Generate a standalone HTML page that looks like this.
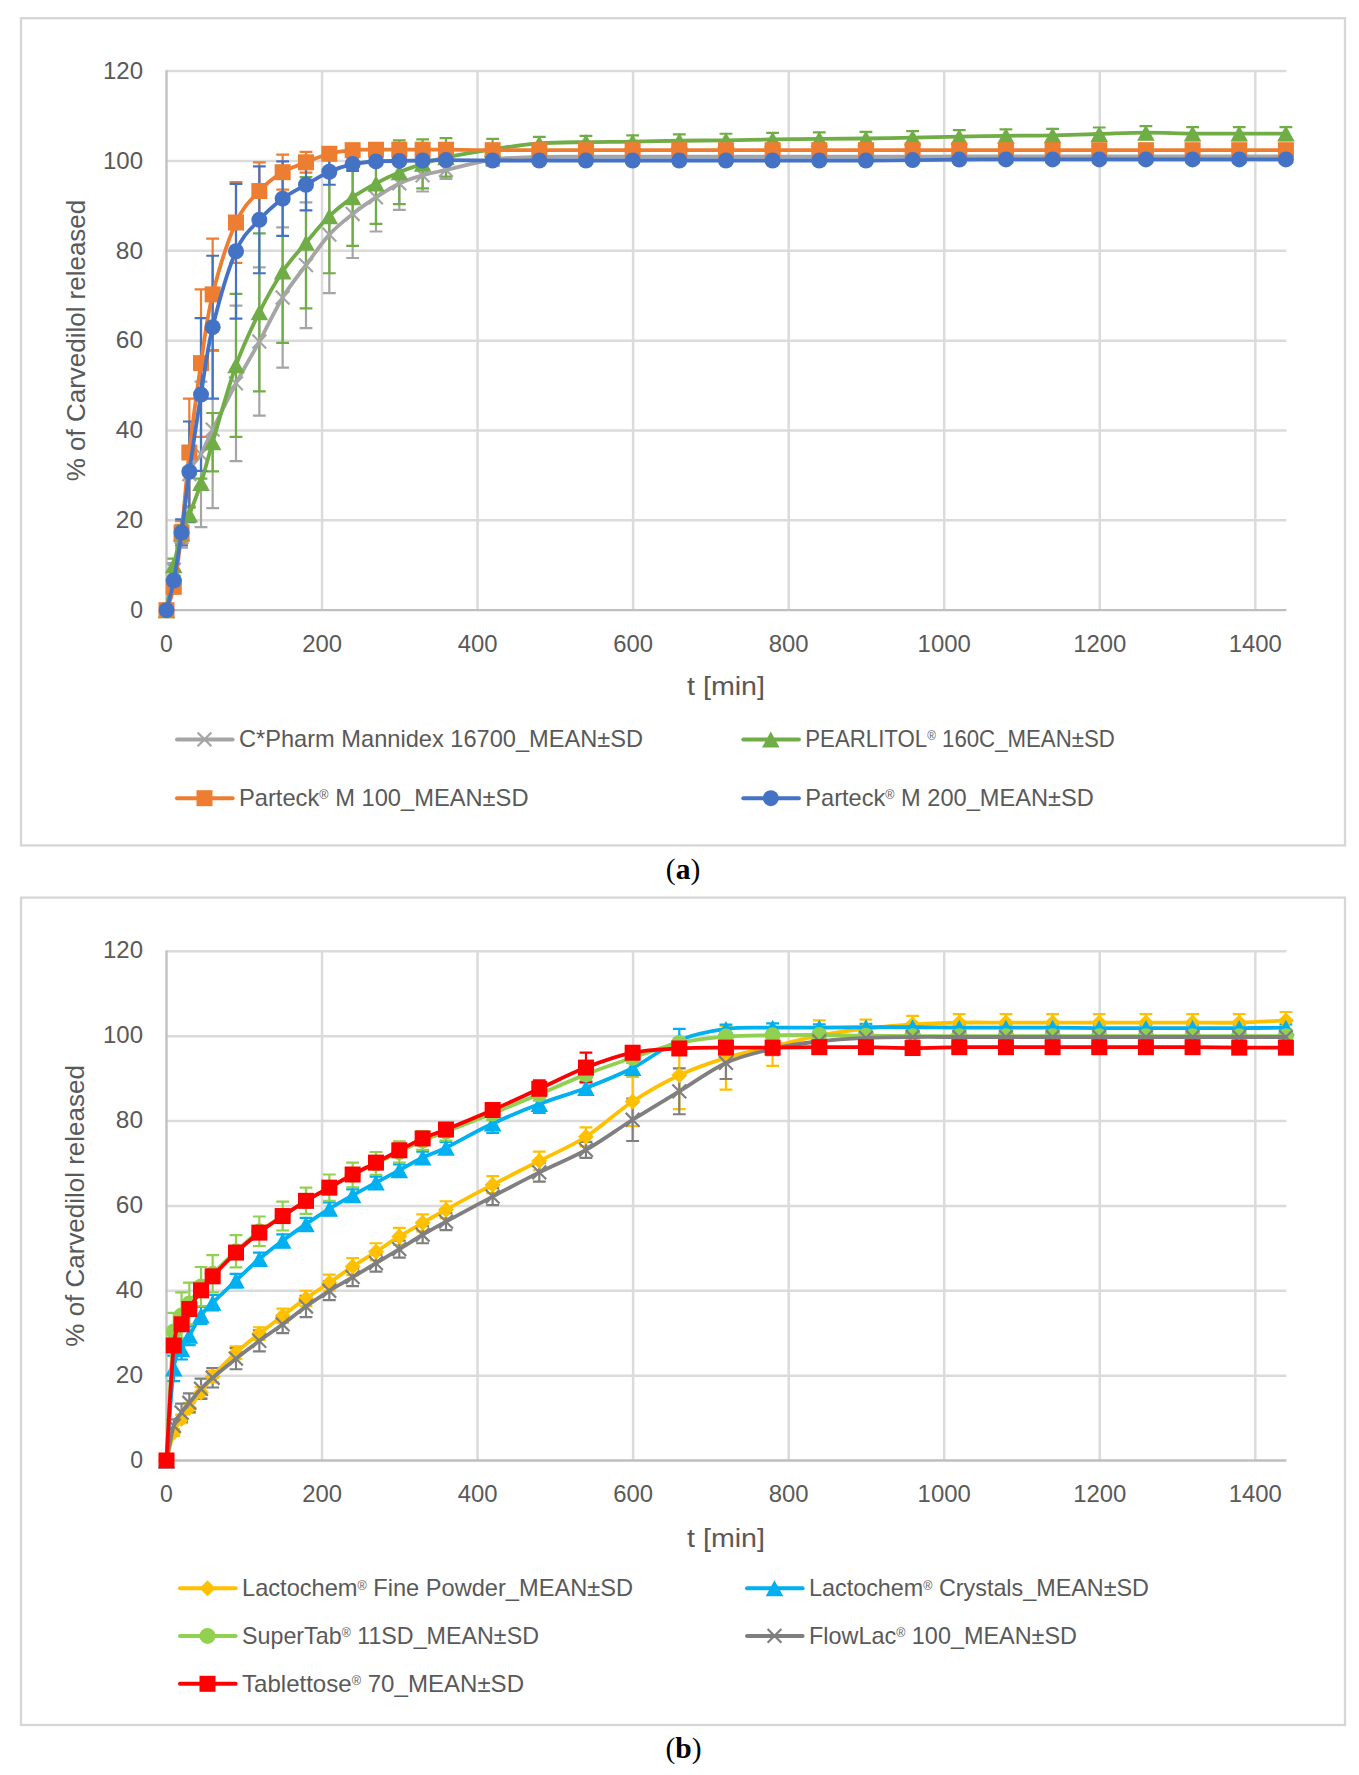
<!DOCTYPE html>
<html lang="en">
<head>
<meta charset="utf-8">
<title>Carvedilol release profiles</title>
<style>
html,body{margin:0;padding:0;background:#fff;}
body{width:1359px;height:1775px;overflow:hidden;}
svg{display:block;}
text{white-space:pre;}
</style>
</head>
<body>
<svg width="1359" height="1775" viewBox="0 0 1359 1775">
<rect x="21" y="18.2" width="1324" height="827.2" fill="#fff" stroke="#d6d6d6" stroke-width="2.3"/>
<path d="M166.5 520.35H1286.4M166.5 430.5H1286.4M166.5 340.65H1286.4M166.5 250.8H1286.4M166.5 160.95H1286.4M166.5 71.1H1286.4M322.04 71.1V610.2M477.58 71.1V610.2M633.12 71.1V610.2M788.67 71.1V610.2M944.21 71.1V610.2M1099.75 71.1V610.2M1255.29 71.1V610.2" stroke="#dbdbdb" stroke-width="2.5" fill="none"/>
<path d="M166.5 70.3V610.2H1286.4" stroke="#bfbfbf" stroke-width="2.3" fill="none"/>
<text x="143" y="617.9" font-family='"Liberation Sans", sans-serif' font-size="24" fill="#595959" text-anchor="end" textLength="12.8" lengthAdjust="spacingAndGlyphs">0</text>
<text x="143" y="528.05" font-family='"Liberation Sans", sans-serif' font-size="24" fill="#595959" text-anchor="end" textLength="27.2" lengthAdjust="spacingAndGlyphs">20</text>
<text x="143" y="438.2" font-family='"Liberation Sans", sans-serif' font-size="24" fill="#595959" text-anchor="end" textLength="27.2" lengthAdjust="spacingAndGlyphs">40</text>
<text x="143" y="348.35" font-family='"Liberation Sans", sans-serif' font-size="24" fill="#595959" text-anchor="end" textLength="27.2" lengthAdjust="spacingAndGlyphs">60</text>
<text x="143" y="258.5" font-family='"Liberation Sans", sans-serif' font-size="24" fill="#595959" text-anchor="end" textLength="27.2" lengthAdjust="spacingAndGlyphs">80</text>
<text x="143" y="168.65" font-family='"Liberation Sans", sans-serif' font-size="24" fill="#595959" text-anchor="end" textLength="40" lengthAdjust="spacingAndGlyphs">100</text>
<text x="143" y="78.8" font-family='"Liberation Sans", sans-serif' font-size="24" fill="#595959" text-anchor="end" textLength="40" lengthAdjust="spacingAndGlyphs">120</text>
<text x="166.5" y="652.3" font-family='"Liberation Sans", sans-serif' font-size="24" fill="#595959" text-anchor="middle" textLength="12.8" lengthAdjust="spacingAndGlyphs">0</text>
<text x="322.04" y="652.3" font-family='"Liberation Sans", sans-serif' font-size="24" fill="#595959" text-anchor="middle" textLength="39.8" lengthAdjust="spacingAndGlyphs">200</text>
<text x="477.58" y="652.3" font-family='"Liberation Sans", sans-serif' font-size="24" fill="#595959" text-anchor="middle" textLength="39.8" lengthAdjust="spacingAndGlyphs">400</text>
<text x="633.12" y="652.3" font-family='"Liberation Sans", sans-serif' font-size="24" fill="#595959" text-anchor="middle" textLength="39.8" lengthAdjust="spacingAndGlyphs">600</text>
<text x="788.67" y="652.3" font-family='"Liberation Sans", sans-serif' font-size="24" fill="#595959" text-anchor="middle" textLength="39.8" lengthAdjust="spacingAndGlyphs">800</text>
<text x="944.21" y="652.3" font-family='"Liberation Sans", sans-serif' font-size="24" fill="#595959" text-anchor="middle" textLength="53.2" lengthAdjust="spacingAndGlyphs">1000</text>
<text x="1099.75" y="652.3" font-family='"Liberation Sans", sans-serif' font-size="24" fill="#595959" text-anchor="middle" textLength="53.2" lengthAdjust="spacingAndGlyphs">1200</text>
<text x="1255.29" y="652.3" font-family='"Liberation Sans", sans-serif' font-size="24" fill="#595959" text-anchor="middle" textLength="53.2" lengthAdjust="spacingAndGlyphs">1400</text>
<text x="726" y="695" font-family='"Liberation Sans", sans-serif' font-size="25.6" fill="#595959" text-anchor="middle" textLength="78" lengthAdjust="spacingAndGlyphs">t [min]</text>
<text x="84.5" y="340.5" font-family='"Liberation Sans", sans-serif' font-size="25.6" fill="#595959" text-anchor="middle" textLength="281.5" lengthAdjust="spacingAndGlyphs" transform="rotate(-90 84.5 340.5)">% of Carvedilol released</text>
<path d="M173.78 563.03V576.51M167.38 563.03H180.18M167.38 576.51H180.18M181.55 526.19V547.75M175.15 526.19H187.95M175.15 547.75H187.95M201 381.53V527.09M194.6 381.53H207.4M194.6 527.09H207.4M212.66 350.98V508.22M206.26 350.98H219.06M206.26 508.22H219.06M235.99 305.61V461.05M229.59 305.61H242.39M229.59 461.05H242.39M259.33 267.42V415.67M252.93 267.42H265.73M252.93 415.67H265.73M282.66 227.44V367.61M276.26 227.44H289.06M276.26 367.61H289.06M305.99 202.28V328.07M299.59 202.28H312.39M299.59 328.07H312.39M329.32 176.22V293.03M322.92 176.22H335.72M322.92 293.03H335.72M352.65 169.94V257.99M346.25 169.94H359.05M346.25 257.99H359.05M375.98 163.2V231.48M369.58 163.2H382.38M369.58 231.48H382.38M399.31 156.91V209.92M392.91 156.91H405.71M392.91 209.92H405.71M422.64 159.15V191.5M416.24 159.15H429.04M416.24 191.5H429.04M445.98 160.95V178.92M439.58 160.95H452.38M439.58 178.92H452.38M492.64 156.01V163.2M486.24 156.01H499.04M486.24 163.2H499.04M539.3 154.66V159.15M532.9 154.66H545.7M532.9 159.15H545.7M585.96 154.44V158.93M579.56 154.44H592.36M579.56 158.93H592.36M632.62 154.44V158.93M626.23 154.44H639.02M626.23 158.93H639.02M679.29 154.44V158.93M672.89 154.44H685.69M672.89 158.93H685.69M725.95 154.44V158.93M719.55 154.44H732.35M719.55 158.93H732.35M772.61 154.44V158.93M766.21 154.44H779.01M766.21 158.93H779.01M819.28 154.44V158.93M812.88 154.44H825.68M812.88 158.93H825.68M865.94 154.44V158.93M859.54 154.44H872.34M859.54 158.93H872.34M912.6 154.44V158.93M906.2 154.44H919M906.2 158.93H919M959.26 154.21V158.7M952.86 154.21H965.66M952.86 158.7H965.66M1005.93 154.21V158.7M999.53 154.21H1012.33M999.53 158.7H1012.33M1052.59 154.21V158.7M1046.19 154.21H1058.99M1046.19 158.7H1058.99M1099.25 154.21V158.7M1092.85 154.21H1105.65M1092.85 158.7H1105.65M1145.91 154.21V158.7M1139.51 154.21H1152.31M1139.51 158.7H1152.31M1192.58 154.21V158.7M1186.17 154.21H1198.98M1186.17 158.7H1198.98M1239.24 154.21V158.7M1232.84 154.21H1245.64M1232.84 158.7H1245.64M1285.9 154.21V158.7M1279.5 154.21H1292.3M1279.5 158.7H1292.3" stroke="#a5a5a5" stroke-width="2.2" fill="none"/>
<path d="M173.78 558.54V572.01M167.38 558.54H180.18M167.38 572.01H180.18M181.55 524.84V542.81M175.15 524.84H187.95M175.15 542.81H187.95M189.33 507.77V521.25M182.93 507.77H195.73M182.93 521.25H195.73M201 478.57V487.55M194.6 478.57H207.4M194.6 487.55H207.4M212.66 412.98V471.38M206.26 412.98H219.06M206.26 471.38H219.06M235.99 293.93V436.79M229.59 293.93H242.39M229.59 436.79H242.39M259.33 233.28V391.42M252.93 233.28H265.73M252.93 391.42H265.73M282.66 200.03V342.9M276.26 200.03H289.06M276.26 342.9H289.06M305.99 177.12V308.3M299.59 177.12H312.39M299.59 308.3H312.39M329.32 159.15V273.26M322.92 159.15H335.72M322.92 273.26H335.72M352.65 148.82V245.86M346.25 148.82H359.05M346.25 245.86H359.05M375.98 142.98V223.84M369.58 142.98H382.38M369.58 223.84H382.38M399.31 140.28V204.08M392.91 140.28H405.71M392.91 204.08H405.71M422.64 139.39V188.35M416.24 139.39H429.04M416.24 188.35H429.04M445.98 138.04V176.67M439.58 138.04H452.38M439.58 176.67H452.38M492.64 138.94V159.6M486.24 138.94H499.04M486.24 159.6H499.04M539.3 136.92V149.94M532.9 136.92H545.7M532.9 149.94H545.7M585.96 135.79V148.37M579.56 135.79H592.36M579.56 148.37H592.36M632.62 135.34V147.92M626.23 135.34H639.02M626.23 147.92H639.02M679.29 134.44V147.02M672.89 134.44H685.69M672.89 147.02H685.69M725.95 133.77V146.8M719.55 133.77H732.35M719.55 146.8H732.35M772.61 132.87V145.9M766.21 132.87H779.01M766.21 145.9H779.01M819.28 132.42V145.45M812.88 132.42H825.68M812.88 145.45H825.68M865.94 131.97V145M859.54 131.97H872.34M859.54 145H872.34M912.6 131.07V144.1M906.2 131.07H919M906.2 144.1H919M959.26 130.18V143.2M952.86 130.18H965.66M952.86 143.2H965.66M1005.93 129.28V142.31M999.53 129.28H1012.33M999.53 142.31H1012.33M1052.59 128.83V141.86M1046.19 128.83H1058.99M1046.19 141.86H1058.99M1099.25 127.48V140.51M1092.85 127.48H1105.65M1092.85 140.51H1105.65M1145.91 126.13V139.16M1139.51 126.13H1152.31M1139.51 139.16H1152.31M1192.58 127.03V140.06M1186.17 127.03H1198.98M1186.17 140.06H1198.98M1239.24 127.03V140.06M1232.84 127.03H1245.64M1232.84 140.06H1245.64M1285.9 127.03V140.06M1279.5 127.03H1292.3M1279.5 140.06H1292.3" stroke="#70ad47" stroke-width="2.2" fill="none"/>
<path d="M173.78 582.35V591.33M167.38 582.35H180.18M167.38 591.33H180.18M181.55 521.25V543.71M175.15 521.25H187.95M175.15 543.71H187.95M189.33 398.6V506.42M182.93 398.6H195.73M182.93 506.42H195.73M201 289.44V436.79M194.6 289.44H207.4M194.6 436.79H207.4M212.66 238.67V350.08M206.26 238.67H219.06M206.26 350.08H219.06M235.99 182.06V262.93M229.59 182.06H242.39M229.59 262.93H242.39M259.33 162.3V219.8M252.93 162.3H265.73M252.93 219.8H265.73M282.66 154.66V189.7M276.26 154.66H289.06M276.26 189.7H289.06M305.99 151.96V172.63M299.59 151.96H312.39M299.59 172.63H312.39M329.32 148.37V159.15M322.92 148.37H335.72M322.92 159.15H335.72M352.65 146.57V153.76M346.25 146.57H359.05M346.25 153.76H359.05M375.98 147.47V151.96M369.58 147.47H382.38M369.58 151.96H382.38M399.31 147.92V151.52M392.91 147.92H405.71M392.91 151.52H405.71M422.64 147.92V151.52M416.24 147.92H429.04M416.24 151.52H429.04M445.98 147.92V151.52M439.58 147.92H452.38M439.58 151.52H452.38M492.64 148.82V151.52M486.24 148.82H499.04M486.24 151.52H499.04M539.3 148.82V151.52M532.9 148.82H545.7M532.9 151.52H545.7M585.96 148.82V151.52M579.56 148.82H592.36M579.56 151.52H592.36M632.62 148.82V151.52M626.23 148.82H639.02M626.23 151.52H639.02M679.29 148.82V151.52M672.89 148.82H685.69M672.89 151.52H685.69M725.95 148.82V151.52M719.55 148.82H732.35M719.55 151.52H732.35M772.61 148.82V151.52M766.21 148.82H779.01M766.21 151.52H779.01M819.28 148.82V151.52M812.88 148.82H825.68M812.88 151.52H825.68M865.94 148.82V151.52M859.54 148.82H872.34M859.54 151.52H872.34M912.6 148.82V151.52M906.2 148.82H919M906.2 151.52H919M959.26 148.82V151.52M952.86 148.82H965.66M952.86 151.52H965.66M1005.93 148.82V151.52M999.53 148.82H1012.33M999.53 151.52H1012.33M1052.59 148.82V151.52M1046.19 148.82H1058.99M1046.19 151.52H1058.99M1099.25 148.82V151.52M1092.85 148.82H1105.65M1092.85 151.52H1105.65M1145.91 148.82V151.52M1139.51 148.82H1152.31M1139.51 151.52H1152.31M1192.58 148.82V151.52M1186.17 148.82H1198.98M1186.17 151.52H1198.98M1239.24 148.82V151.52M1232.84 148.82H1245.64M1232.84 151.52H1245.64M1285.9 148.82V151.52M1279.5 148.82H1292.3M1279.5 151.52H1292.3" stroke="#ed7d31" stroke-width="2.2" fill="none"/>
<path d="M173.78 576.06V585.04M167.38 576.06H180.18M167.38 585.04H180.18M181.55 519.45V545.51M175.15 519.45H187.95M175.15 545.51H187.95M189.33 421.51V522.15M182.93 421.51H195.73M182.93 522.15H195.73M201 318.19V470.93M194.6 318.19H207.4M194.6 470.93H207.4M212.66 255.74V398.6M206.26 255.74H219.06M206.26 398.6H219.06M235.99 183.86V318.64M229.59 183.86H242.39M229.59 318.64H242.39M259.33 166.34V273.26M252.93 166.34H265.73M252.93 273.26H265.73M282.66 161.4V235.97M276.26 161.4H289.06M276.26 235.97H289.06M305.99 159.15V210.37M299.59 159.15H312.39M299.59 210.37H312.39M329.32 158.7V184.76M322.92 158.7H335.72M322.92 184.76H335.72M352.65 157.36V170.83M346.25 157.36H359.05M346.25 170.83H359.05M375.98 157.81V164.99M369.58 157.81H382.38M369.58 164.99H382.38M399.31 158.7V163.2M392.91 158.7H405.71M392.91 163.2H405.71M422.64 158.7V162.3M416.24 158.7H429.04M416.24 162.3H429.04M445.98 158.7V161.4M439.58 158.7H452.38M439.58 161.4H452.38M492.64 159.15V161.85M486.24 159.15H499.04M486.24 161.85H499.04M539.3 159.15V161.85M532.9 159.15H545.7M532.9 161.85H545.7M585.96 159.15V161.85M579.56 159.15H592.36M579.56 161.85H592.36M632.62 159.15V161.85M626.23 159.15H639.02M626.23 161.85H639.02M679.29 159.15V161.85M672.89 159.15H685.69M672.89 161.85H685.69M725.95 159.15V161.85M719.55 159.15H732.35M719.55 161.85H732.35M772.61 159.15V161.85M766.21 159.15H779.01M766.21 161.85H779.01M819.28 159.15V161.85M812.88 159.15H825.68M812.88 161.85H825.68M865.94 159.15V161.85M859.54 159.15H872.34M859.54 161.85H872.34M912.6 158.7V161.4M906.2 158.7H919M906.2 161.4H919M959.26 158.25V160.95M952.86 158.25H965.66M952.86 160.95H965.66M1005.93 158.03V160.73M999.53 158.03H1012.33M999.53 160.73H1012.33M1052.59 158.03V160.73M1046.19 158.03H1058.99M1046.19 160.73H1058.99M1099.25 158.03V160.73M1092.85 158.03H1105.65M1092.85 160.73H1105.65M1145.91 158.03V160.73M1139.51 158.03H1152.31M1139.51 160.73H1152.31M1192.58 158.03V160.73M1186.17 158.03H1198.98M1186.17 160.73H1198.98M1239.24 158.03V160.73M1232.84 158.03H1245.64M1232.84 160.73H1245.64M1285.9 158.03V160.73M1279.5 158.03H1292.3M1279.5 160.73H1292.3" stroke="#4472c4" stroke-width="2.2" fill="none"/>
<path d="M166.5 610.2C167.71 603.46 171.27 581.97 173.78 569.77C176.29 557.56 178.96 552.92 181.55 536.97C184.15 521.02 186.09 487.85 189.33 474.08C192.57 460.3 197.11 461.72 201 454.31C204.89 446.9 206.83 441.43 212.66 429.6C218.5 417.77 228.22 398 235.99 383.33C243.77 368.65 251.55 355.85 259.33 341.55C267.1 327.25 274.88 310.25 282.66 297.52C290.43 284.79 298.21 275.66 305.99 265.18C313.76 254.69 321.54 243.16 329.32 234.63C337.1 226.09 344.87 220.18 352.65 213.96C360.43 207.75 368.2 202.43 375.98 197.34C383.76 192.25 391.54 187.08 399.31 183.41C407.09 179.74 414.87 177.57 422.64 175.33C430.42 173.08 434.31 172.56 445.98 169.94C457.64 167.31 477.08 161.77 492.64 159.6C508.19 157.43 523.75 157.39 539.3 156.91C554.85 156.42 570.41 156.72 585.96 156.68C601.52 156.64 617.07 156.68 632.62 156.68C648.18 156.68 663.73 156.68 679.29 156.68C694.84 156.68 710.4 156.68 725.95 156.68C741.5 156.68 757.06 156.68 772.61 156.68C788.17 156.68 803.72 156.68 819.28 156.68C834.83 156.68 850.38 156.68 865.94 156.68C881.49 156.68 897.05 156.72 912.6 156.68C928.15 156.64 943.71 156.49 959.26 156.46C974.82 156.42 990.37 156.46 1005.93 156.46C1021.48 156.46 1037.03 156.46 1052.59 156.46C1068.14 156.46 1083.7 156.46 1099.25 156.46C1114.8 156.46 1130.36 156.46 1145.91 156.46C1161.47 156.46 1177.02 156.46 1192.58 156.46C1208.13 156.46 1223.68 156.46 1239.24 156.46C1254.79 156.46 1278.12 156.46 1285.9 156.46" stroke="#a5a5a5" stroke-width="3.8" fill="none" stroke-linecap="round" stroke-linejoin="round"/>
<path d="M159.6 603.3L173.4 617.1M159.6 617.1L173.4 603.3" stroke="#a5a5a5" stroke-width="2.2" fill="none"/><path d="M166.88 562.87L180.68 576.67M166.88 576.67L180.68 562.87" stroke="#a5a5a5" stroke-width="2.2" fill="none"/><path d="M174.65 530.07L188.45 543.87M174.65 543.87L188.45 530.07" stroke="#a5a5a5" stroke-width="2.2" fill="none"/><path d="M182.43 467.18L196.23 480.98M182.43 480.98L196.23 467.18" stroke="#a5a5a5" stroke-width="2.2" fill="none"/><path d="M194.1 447.41L207.9 461.21M194.1 461.21L207.9 447.41" stroke="#a5a5a5" stroke-width="2.2" fill="none"/><path d="M205.76 422.7L219.56 436.5M205.76 436.5L219.56 422.7" stroke="#a5a5a5" stroke-width="2.2" fill="none"/><path d="M229.09 376.43L242.89 390.23M229.09 390.23L242.89 376.43" stroke="#a5a5a5" stroke-width="2.2" fill="none"/><path d="M252.43 334.65L266.23 348.45M252.43 348.45L266.23 334.65" stroke="#a5a5a5" stroke-width="2.2" fill="none"/><path d="M275.76 290.62L289.56 304.42M275.76 304.42L289.56 290.62" stroke="#a5a5a5" stroke-width="2.2" fill="none"/><path d="M299.09 258.28L312.89 272.08M299.09 272.08L312.89 258.28" stroke="#a5a5a5" stroke-width="2.2" fill="none"/><path d="M322.42 227.73L336.22 241.53M322.42 241.53L336.22 227.73" stroke="#a5a5a5" stroke-width="2.2" fill="none"/><path d="M345.75 207.06L359.55 220.86M345.75 220.86L359.55 207.06" stroke="#a5a5a5" stroke-width="2.2" fill="none"/><path d="M369.08 190.44L382.88 204.24M369.08 204.24L382.88 190.44" stroke="#a5a5a5" stroke-width="2.2" fill="none"/><path d="M392.41 176.51L406.21 190.31M392.41 190.31L406.21 176.51" stroke="#a5a5a5" stroke-width="2.2" fill="none"/><path d="M415.74 168.43L429.54 182.23M415.74 182.23L429.54 168.43" stroke="#a5a5a5" stroke-width="2.2" fill="none"/><path d="M439.08 163.03L452.88 176.84M439.08 176.84L452.88 163.03" stroke="#a5a5a5" stroke-width="2.2" fill="none"/><path d="M485.74 152.7L499.54 166.5M485.74 166.5L499.54 152.7" stroke="#a5a5a5" stroke-width="2.2" fill="none"/><path d="M532.4 150.01L546.2 163.81M532.4 163.81L546.2 150.01" stroke="#a5a5a5" stroke-width="2.2" fill="none"/><path d="M579.06 149.78L592.86 163.58M579.06 163.58L592.86 149.78" stroke="#a5a5a5" stroke-width="2.2" fill="none"/><path d="M625.73 149.78L639.52 163.58M625.73 163.58L639.52 149.78" stroke="#a5a5a5" stroke-width="2.2" fill="none"/><path d="M672.39 149.78L686.19 163.58M672.39 163.58L686.19 149.78" stroke="#a5a5a5" stroke-width="2.2" fill="none"/><path d="M719.05 149.78L732.85 163.58M719.05 163.58L732.85 149.78" stroke="#a5a5a5" stroke-width="2.2" fill="none"/><path d="M765.71 149.78L779.51 163.58M765.71 163.58L779.51 149.78" stroke="#a5a5a5" stroke-width="2.2" fill="none"/><path d="M812.38 149.78L826.18 163.58M812.38 163.58L826.18 149.78" stroke="#a5a5a5" stroke-width="2.2" fill="none"/><path d="M859.04 149.78L872.84 163.58M859.04 163.58L872.84 149.78" stroke="#a5a5a5" stroke-width="2.2" fill="none"/><path d="M905.7 149.78L919.5 163.58M905.7 163.58L919.5 149.78" stroke="#a5a5a5" stroke-width="2.2" fill="none"/><path d="M952.36 149.56L966.16 163.36M952.36 163.36L966.16 149.56" stroke="#a5a5a5" stroke-width="2.2" fill="none"/><path d="M999.03 149.56L1012.83 163.36M999.03 163.36L1012.83 149.56" stroke="#a5a5a5" stroke-width="2.2" fill="none"/><path d="M1045.69 149.56L1059.49 163.36M1045.69 163.36L1059.49 149.56" stroke="#a5a5a5" stroke-width="2.2" fill="none"/><path d="M1092.35 149.56L1106.15 163.36M1092.35 163.36L1106.15 149.56" stroke="#a5a5a5" stroke-width="2.2" fill="none"/><path d="M1139.01 149.56L1152.81 163.36M1139.01 163.36L1152.81 149.56" stroke="#a5a5a5" stroke-width="2.2" fill="none"/><path d="M1185.67 149.56L1199.48 163.36M1185.67 163.36L1199.48 149.56" stroke="#a5a5a5" stroke-width="2.2" fill="none"/><path d="M1232.34 149.56L1246.14 163.36M1232.34 163.36L1246.14 149.56" stroke="#a5a5a5" stroke-width="2.2" fill="none"/><path d="M1279 149.56L1292.8 163.36M1279 163.36L1292.8 149.56" stroke="#a5a5a5" stroke-width="2.2" fill="none"/>
<path d="M166.5 610.2C167.71 602.71 171.27 578 173.78 565.28C176.29 552.55 178.96 542.29 181.55 533.83C184.15 525.37 186.09 522.97 189.33 514.51C192.57 506.05 197.11 495.12 201 483.06C204.89 471.01 206.83 461.8 212.66 442.18C218.5 422.56 228.22 387 235.99 365.36C243.77 343.72 251.55 328 259.33 312.35C267.1 296.7 274.88 283.07 282.66 271.47C290.43 259.86 298.21 251.92 305.99 242.71C313.76 233.5 321.54 223.77 329.32 216.21C337.1 208.65 344.87 202.81 352.65 197.34C360.43 191.87 368.2 187.61 375.98 183.41C383.76 179.22 391.54 175.44 399.31 172.18C407.09 168.92 414.87 166.34 422.64 163.87C430.42 161.4 434.31 159.79 445.98 157.36C457.64 154.92 477.08 151.59 492.64 149.27C508.19 146.95 523.75 144.63 539.3 143.43C554.85 142.23 570.41 142.38 585.96 142.08C601.52 141.78 617.07 141.86 632.62 141.63C648.18 141.41 663.73 140.96 679.29 140.73C694.84 140.51 710.4 140.51 725.95 140.28C741.5 140.06 757.06 139.61 772.61 139.39C788.17 139.16 803.72 139.09 819.28 138.94C834.83 138.79 850.38 138.71 865.94 138.49C881.49 138.26 897.05 137.89 912.6 137.59C928.15 137.29 943.71 136.99 959.26 136.69C974.82 136.39 990.37 136.02 1005.93 135.79C1021.48 135.57 1037.03 135.64 1052.59 135.34C1068.14 135.04 1083.7 134.44 1099.25 134C1114.8 133.55 1130.36 132.72 1145.91 132.65C1161.47 132.57 1177.02 133.4 1192.58 133.55C1208.13 133.7 1223.68 133.55 1239.24 133.55C1254.79 133.55 1278.12 133.55 1285.9 133.55" stroke="#70ad47" stroke-width="3.8" fill="none" stroke-linecap="round" stroke-linejoin="round"/>
<path d="M166.5 602.2L175.3 618.2L157.7 618.2Z" fill="#70ad47"/><path d="M173.78 557.28L182.58 573.28L164.98 573.28Z" fill="#70ad47"/><path d="M181.55 525.83L190.35 541.83L172.75 541.83Z" fill="#70ad47"/><path d="M189.33 506.51L198.13 522.51L180.53 522.51Z" fill="#70ad47"/><path d="M201 475.06L209.8 491.06L192.2 491.06Z" fill="#70ad47"/><path d="M212.66 434.18L221.46 450.18L203.86 450.18Z" fill="#70ad47"/><path d="M235.99 357.36L244.79 373.36L227.19 373.36Z" fill="#70ad47"/><path d="M259.33 304.35L268.13 320.35L250.53 320.35Z" fill="#70ad47"/><path d="M282.66 263.47L291.46 279.47L273.86 279.47Z" fill="#70ad47"/><path d="M305.99 234.71L314.79 250.71L297.19 250.71Z" fill="#70ad47"/><path d="M329.32 208.21L338.12 224.21L320.52 224.21Z" fill="#70ad47"/><path d="M352.65 189.34L361.45 205.34L343.85 205.34Z" fill="#70ad47"/><path d="M375.98 175.41L384.78 191.41L367.18 191.41Z" fill="#70ad47"/><path d="M399.31 164.18L408.11 180.18L390.51 180.18Z" fill="#70ad47"/><path d="M422.64 155.87L431.44 171.87L413.84 171.87Z" fill="#70ad47"/><path d="M445.98 149.36L454.78 165.36L437.18 165.36Z" fill="#70ad47"/><path d="M492.64 141.27L501.44 157.27L483.84 157.27Z" fill="#70ad47"/><path d="M539.3 135.43L548.1 151.43L530.5 151.43Z" fill="#70ad47"/><path d="M585.96 134.08L594.76 150.08L577.16 150.08Z" fill="#70ad47"/><path d="M632.62 133.63L641.42 149.63L623.83 149.63Z" fill="#70ad47"/><path d="M679.29 132.73L688.09 148.73L670.49 148.73Z" fill="#70ad47"/><path d="M725.95 132.28L734.75 148.28L717.15 148.28Z" fill="#70ad47"/><path d="M772.61 131.39L781.41 147.39L763.81 147.39Z" fill="#70ad47"/><path d="M819.28 130.94L828.08 146.94L810.48 146.94Z" fill="#70ad47"/><path d="M865.94 130.49L874.74 146.49L857.14 146.49Z" fill="#70ad47"/><path d="M912.6 129.59L921.4 145.59L903.8 145.59Z" fill="#70ad47"/><path d="M959.26 128.69L968.06 144.69L950.46 144.69Z" fill="#70ad47"/><path d="M1005.93 127.79L1014.73 143.79L997.13 143.79Z" fill="#70ad47"/><path d="M1052.59 127.34L1061.39 143.34L1043.79 143.34Z" fill="#70ad47"/><path d="M1099.25 126L1108.05 142L1090.45 142Z" fill="#70ad47"/><path d="M1145.91 124.65L1154.71 140.65L1137.11 140.65Z" fill="#70ad47"/><path d="M1192.58 125.55L1201.38 141.55L1183.78 141.55Z" fill="#70ad47"/><path d="M1239.24 125.55L1248.04 141.55L1230.44 141.55Z" fill="#70ad47"/><path d="M1285.9 125.55L1294.7 141.55L1277.1 141.55Z" fill="#70ad47"/>
<path d="M166.5 610.2C167.71 606.31 171.27 599.79 173.78 586.84C176.29 573.89 178.96 554.87 181.55 532.48C184.15 510.09 186.09 480.74 189.33 452.51C192.57 424.29 197.11 389.47 201 363.11C204.89 336.76 206.83 317.81 212.66 294.38C218.5 270.94 228.22 239.72 235.99 222.5C243.77 205.28 251.55 199.44 259.33 191.05C267.1 182.66 274.88 176.97 282.66 172.18C290.43 167.39 298.21 165.37 305.99 162.3C313.76 159.23 321.54 155.78 329.32 153.76C337.1 151.74 344.87 150.84 352.65 150.17C360.43 149.49 368.2 149.79 375.98 149.72C383.76 149.64 391.54 149.72 399.31 149.72C407.09 149.72 414.87 149.72 422.64 149.72C430.42 149.72 434.31 149.64 445.98 149.72C457.64 149.79 477.08 150.09 492.64 150.17C508.19 150.24 523.75 150.17 539.3 150.17C554.85 150.17 570.41 150.17 585.96 150.17C601.52 150.17 617.07 150.17 632.62 150.17C648.18 150.17 663.73 150.17 679.29 150.17C694.84 150.17 710.4 150.17 725.95 150.17C741.5 150.17 757.06 150.17 772.61 150.17C788.17 150.17 803.72 150.17 819.28 150.17C834.83 150.17 850.38 150.17 865.94 150.17C881.49 150.17 897.05 150.17 912.6 150.17C928.15 150.17 943.71 150.17 959.26 150.17C974.82 150.17 990.37 150.17 1005.93 150.17C1021.48 150.17 1037.03 150.17 1052.59 150.17C1068.14 150.17 1083.7 150.17 1099.25 150.17C1114.8 150.17 1130.36 150.17 1145.91 150.17C1161.47 150.17 1177.02 150.17 1192.58 150.17C1208.13 150.17 1223.68 150.17 1239.24 150.17C1254.79 150.17 1278.12 150.17 1285.9 150.17" stroke="#ed7d31" stroke-width="3.8" fill="none" stroke-linecap="round" stroke-linejoin="round"/>
<rect x="158.5" y="602.2" width="16" height="16" fill="#ed7d31"/><rect x="165.78" y="578.84" width="16" height="16" fill="#ed7d31"/><rect x="173.55" y="524.48" width="16" height="16" fill="#ed7d31"/><rect x="181.33" y="444.51" width="16" height="16" fill="#ed7d31"/><rect x="193" y="355.11" width="16" height="16" fill="#ed7d31"/><rect x="204.66" y="286.38" width="16" height="16" fill="#ed7d31"/><rect x="227.99" y="214.5" width="16" height="16" fill="#ed7d31"/><rect x="251.33" y="183.05" width="16" height="16" fill="#ed7d31"/><rect x="274.66" y="164.18" width="16" height="16" fill="#ed7d31"/><rect x="297.99" y="154.3" width="16" height="16" fill="#ed7d31"/><rect x="321.32" y="145.76" width="16" height="16" fill="#ed7d31"/><rect x="344.65" y="142.17" width="16" height="16" fill="#ed7d31"/><rect x="367.98" y="141.72" width="16" height="16" fill="#ed7d31"/><rect x="391.31" y="141.72" width="16" height="16" fill="#ed7d31"/><rect x="414.64" y="141.72" width="16" height="16" fill="#ed7d31"/><rect x="437.98" y="141.72" width="16" height="16" fill="#ed7d31"/><rect x="484.64" y="142.17" width="16" height="16" fill="#ed7d31"/><rect x="531.3" y="142.17" width="16" height="16" fill="#ed7d31"/><rect x="577.96" y="142.17" width="16" height="16" fill="#ed7d31"/><rect x="624.62" y="142.17" width="16" height="16" fill="#ed7d31"/><rect x="671.29" y="142.17" width="16" height="16" fill="#ed7d31"/><rect x="717.95" y="142.17" width="16" height="16" fill="#ed7d31"/><rect x="764.61" y="142.17" width="16" height="16" fill="#ed7d31"/><rect x="811.28" y="142.17" width="16" height="16" fill="#ed7d31"/><rect x="857.94" y="142.17" width="16" height="16" fill="#ed7d31"/><rect x="904.6" y="142.17" width="16" height="16" fill="#ed7d31"/><rect x="951.26" y="142.17" width="16" height="16" fill="#ed7d31"/><rect x="997.93" y="142.17" width="16" height="16" fill="#ed7d31"/><rect x="1044.59" y="142.17" width="16" height="16" fill="#ed7d31"/><rect x="1091.25" y="142.17" width="16" height="16" fill="#ed7d31"/><rect x="1137.91" y="142.17" width="16" height="16" fill="#ed7d31"/><rect x="1184.58" y="142.17" width="16" height="16" fill="#ed7d31"/><rect x="1231.24" y="142.17" width="16" height="16" fill="#ed7d31"/><rect x="1277.9" y="142.17" width="16" height="16" fill="#ed7d31"/>
<path d="M166.5 610.2C167.71 605.26 171.27 593.5 173.78 580.55C176.29 567.6 178.96 550.6 181.55 532.48C184.15 514.36 186.09 494.82 189.33 471.83C192.57 448.84 197.11 418.67 201 394.56C204.89 370.45 206.83 351.06 212.66 327.17C218.5 303.29 228.22 269.14 235.99 251.25C243.77 233.35 251.55 228.56 259.33 219.8C267.1 211.04 274.88 204.53 282.66 198.69C290.43 192.85 298.21 189.25 305.99 184.76C313.76 180.27 321.54 175.18 329.32 171.73C337.1 168.29 344.87 165.82 352.65 164.09C360.43 162.37 368.2 161.92 375.98 161.4C383.76 160.88 391.54 161.1 399.31 160.95C407.09 160.8 414.87 160.65 422.64 160.5C430.42 160.35 434.31 160.05 445.98 160.05C457.64 160.05 477.08 160.43 492.64 160.5C508.19 160.58 523.75 160.5 539.3 160.5C554.85 160.5 570.41 160.5 585.96 160.5C601.52 160.5 617.07 160.5 632.62 160.5C648.18 160.5 663.73 160.5 679.29 160.5C694.84 160.5 710.4 160.5 725.95 160.5C741.5 160.5 757.06 160.5 772.61 160.5C788.17 160.5 803.72 160.5 819.28 160.5C834.83 160.5 850.38 160.58 865.94 160.5C881.49 160.43 897.05 160.2 912.6 160.05C928.15 159.9 943.71 159.71 959.26 159.6C974.82 159.49 990.37 159.42 1005.93 159.38C1021.48 159.34 1037.03 159.38 1052.59 159.38C1068.14 159.38 1083.7 159.38 1099.25 159.38C1114.8 159.38 1130.36 159.38 1145.91 159.38C1161.47 159.38 1177.02 159.38 1192.58 159.38C1208.13 159.38 1223.68 159.38 1239.24 159.38C1254.79 159.38 1278.12 159.38 1285.9 159.38" stroke="#4472c4" stroke-width="3.8" fill="none" stroke-linecap="round" stroke-linejoin="round"/>
<circle cx="166.5" cy="610.2" r="8" fill="#4472c4"/><circle cx="173.78" cy="580.55" r="8" fill="#4472c4"/><circle cx="181.55" cy="532.48" r="8" fill="#4472c4"/><circle cx="189.33" cy="471.83" r="8" fill="#4472c4"/><circle cx="201" cy="394.56" r="8" fill="#4472c4"/><circle cx="212.66" cy="327.17" r="8" fill="#4472c4"/><circle cx="235.99" cy="251.25" r="8" fill="#4472c4"/><circle cx="259.33" cy="219.8" r="8" fill="#4472c4"/><circle cx="282.66" cy="198.69" r="8" fill="#4472c4"/><circle cx="305.99" cy="184.76" r="8" fill="#4472c4"/><circle cx="329.32" cy="171.73" r="8" fill="#4472c4"/><circle cx="352.65" cy="164.09" r="8" fill="#4472c4"/><circle cx="375.98" cy="161.4" r="8" fill="#4472c4"/><circle cx="399.31" cy="160.95" r="8" fill="#4472c4"/><circle cx="422.64" cy="160.5" r="8" fill="#4472c4"/><circle cx="445.98" cy="160.05" r="8" fill="#4472c4"/><circle cx="492.64" cy="160.5" r="8" fill="#4472c4"/><circle cx="539.3" cy="160.5" r="8" fill="#4472c4"/><circle cx="585.96" cy="160.5" r="8" fill="#4472c4"/><circle cx="632.62" cy="160.5" r="8" fill="#4472c4"/><circle cx="679.29" cy="160.5" r="8" fill="#4472c4"/><circle cx="725.95" cy="160.5" r="8" fill="#4472c4"/><circle cx="772.61" cy="160.5" r="8" fill="#4472c4"/><circle cx="819.28" cy="160.5" r="8" fill="#4472c4"/><circle cx="865.94" cy="160.5" r="8" fill="#4472c4"/><circle cx="912.6" cy="160.05" r="8" fill="#4472c4"/><circle cx="959.26" cy="159.6" r="8" fill="#4472c4"/><circle cx="1005.93" cy="159.38" r="8" fill="#4472c4"/><circle cx="1052.59" cy="159.38" r="8" fill="#4472c4"/><circle cx="1099.25" cy="159.38" r="8" fill="#4472c4"/><circle cx="1145.91" cy="159.38" r="8" fill="#4472c4"/><circle cx="1192.58" cy="159.38" r="8" fill="#4472c4"/><circle cx="1239.24" cy="159.38" r="8" fill="#4472c4"/><circle cx="1285.9" cy="159.38" r="8" fill="#4472c4"/>
<path d="M177 739.4H232.6" stroke="#a5a5a5" stroke-width="4" stroke-linecap="round"/>
<path d="M197.6 732.5L211.4 746.3M197.6 746.3L211.4 732.5" stroke="#a5a5a5" stroke-width="2.2" fill="none"/>
<text x="239" y="747" font-family='"Liberation Sans", sans-serif' font-size="23.6" fill="#595959" text-anchor="start" textLength="404" lengthAdjust="spacingAndGlyphs">C*Pharm Mannidex 16700_MEAN±SD</text>
<path d="M743.3 739.4H798.9" stroke="#70ad47" stroke-width="4" stroke-linecap="round"/>
<path d="M770.8 731.4L779.6 747.4L762 747.4Z" fill="#70ad47"/>
<text x="805.3" y="747" font-family='"Liberation Sans", sans-serif' font-size="23.6" fill="#595959" text-anchor="start" textLength="309.5" lengthAdjust="spacingAndGlyphs">PEARLITOL<tspan font-size="12.5" dy="-6.8">®</tspan><tspan dy="6.8"> 160C_MEAN±SD</tspan></text>
<path d="M177 798.2H232.6" stroke="#ed7d31" stroke-width="4" stroke-linecap="round"/>
<rect x="196.5" y="790.2" width="16" height="16" fill="#ed7d31"/>
<text x="239" y="805.8" font-family='"Liberation Sans", sans-serif' font-size="23.6" fill="#595959" text-anchor="start" textLength="289.5" lengthAdjust="spacingAndGlyphs">Parteck<tspan font-size="12.5" dy="-6.8">®</tspan><tspan dy="6.8"> M 100_MEAN±SD</tspan></text>
<path d="M743.3 798.2H798.9" stroke="#4472c4" stroke-width="4" stroke-linecap="round"/>
<circle cx="770.8" cy="798.2" r="8" fill="#4472c4"/>
<text x="805.3" y="805.8" font-family='"Liberation Sans", sans-serif' font-size="23.6" fill="#595959" text-anchor="start" textLength="288.5" lengthAdjust="spacingAndGlyphs">Parteck<tspan font-size="12.5" dy="-6.8">®</tspan><tspan dy="6.8"> M 200_MEAN±SD</tspan></text>
<rect x="21" y="897.6" width="1324" height="827.4" fill="#fff" stroke="#d6d6d6" stroke-width="2.3"/>
<path d="M166.5 1375.63H1286.4M166.5 1290.77H1286.4M166.5 1205.9H1286.4M166.5 1121.03H1286.4M166.5 1036.17H1286.4M166.5 951.3H1286.4M322.04 951.3V1460.5M477.58 951.3V1460.5M633.12 951.3V1460.5M788.67 951.3V1460.5M944.21 951.3V1460.5M1099.75 951.3V1460.5M1255.29 951.3V1460.5" stroke="#dbdbdb" stroke-width="2.5" fill="none"/>
<path d="M166.5 950.5V1460.5H1286.4" stroke="#bfbfbf" stroke-width="2.3" fill="none"/>
<text x="143" y="1467.5" font-family='"Liberation Sans", sans-serif' font-size="24" fill="#595959" text-anchor="end" textLength="12.8" lengthAdjust="spacingAndGlyphs">0</text>
<text x="143" y="1382.63" font-family='"Liberation Sans", sans-serif' font-size="24" fill="#595959" text-anchor="end" textLength="27.2" lengthAdjust="spacingAndGlyphs">20</text>
<text x="143" y="1297.77" font-family='"Liberation Sans", sans-serif' font-size="24" fill="#595959" text-anchor="end" textLength="27.2" lengthAdjust="spacingAndGlyphs">40</text>
<text x="143" y="1212.9" font-family='"Liberation Sans", sans-serif' font-size="24" fill="#595959" text-anchor="end" textLength="27.2" lengthAdjust="spacingAndGlyphs">60</text>
<text x="143" y="1128.03" font-family='"Liberation Sans", sans-serif' font-size="24" fill="#595959" text-anchor="end" textLength="27.2" lengthAdjust="spacingAndGlyphs">80</text>
<text x="143" y="1043.17" font-family='"Liberation Sans", sans-serif' font-size="24" fill="#595959" text-anchor="end" textLength="40" lengthAdjust="spacingAndGlyphs">100</text>
<text x="143" y="958.3" font-family='"Liberation Sans", sans-serif' font-size="24" fill="#595959" text-anchor="end" textLength="40" lengthAdjust="spacingAndGlyphs">120</text>
<text x="166.5" y="1501.8" font-family='"Liberation Sans", sans-serif' font-size="24" fill="#595959" text-anchor="middle" textLength="12.8" lengthAdjust="spacingAndGlyphs">0</text>
<text x="322.04" y="1501.8" font-family='"Liberation Sans", sans-serif' font-size="24" fill="#595959" text-anchor="middle" textLength="39.8" lengthAdjust="spacingAndGlyphs">200</text>
<text x="477.58" y="1501.8" font-family='"Liberation Sans", sans-serif' font-size="24" fill="#595959" text-anchor="middle" textLength="39.8" lengthAdjust="spacingAndGlyphs">400</text>
<text x="633.12" y="1501.8" font-family='"Liberation Sans", sans-serif' font-size="24" fill="#595959" text-anchor="middle" textLength="39.8" lengthAdjust="spacingAndGlyphs">600</text>
<text x="788.67" y="1501.8" font-family='"Liberation Sans", sans-serif' font-size="24" fill="#595959" text-anchor="middle" textLength="39.8" lengthAdjust="spacingAndGlyphs">800</text>
<text x="944.21" y="1501.8" font-family='"Liberation Sans", sans-serif' font-size="24" fill="#595959" text-anchor="middle" textLength="53.2" lengthAdjust="spacingAndGlyphs">1000</text>
<text x="1099.75" y="1501.8" font-family='"Liberation Sans", sans-serif' font-size="24" fill="#595959" text-anchor="middle" textLength="53.2" lengthAdjust="spacingAndGlyphs">1200</text>
<text x="1255.29" y="1501.8" font-family='"Liberation Sans", sans-serif' font-size="24" fill="#595959" text-anchor="middle" textLength="53.2" lengthAdjust="spacingAndGlyphs">1400</text>
<text x="726" y="1546.8" font-family='"Liberation Sans", sans-serif' font-size="25.6" fill="#595959" text-anchor="middle" textLength="78" lengthAdjust="spacingAndGlyphs">t [min]</text>
<text x="84.5" y="1205.9" font-family='"Liberation Sans", sans-serif' font-size="25.6" fill="#595959" text-anchor="middle" textLength="281.5" lengthAdjust="spacingAndGlyphs" transform="rotate(-90 84.5 1205.9)">% of Carvedilol released</text>
<path d="M173.78 1429.1V1435.89M167.38 1429.1H180.18M167.38 1435.89H180.18M181.55 1414.67V1423.16M175.15 1414.67H187.95M175.15 1423.16H187.95M189.33 1402.79V1412.97M182.93 1402.79H195.73M182.93 1412.97H195.73M201 1387.09V1398.12M194.6 1387.09H207.4M194.6 1398.12H207.4M212.66 1370.54V1382.42M206.26 1370.54H219.06M206.26 1382.42H219.06M235.99 1346.35V1359.08M229.59 1346.35H242.39M229.59 1359.08H242.39M259.33 1327.26V1339.99M252.93 1327.26H265.73M252.93 1339.99H265.73M282.66 1308.59V1323.02M276.26 1308.59H289.06M276.26 1323.02H289.06M305.99 1290.77V1306.04M299.59 1290.77H312.39M299.59 1306.04H312.39M329.32 1274.64V1290.77M322.92 1274.64H335.72M322.92 1290.77H335.72M352.65 1258.09V1275.07M346.25 1258.09H359.05M346.25 1275.07H359.05M375.98 1243.24V1260.21M369.58 1243.24H382.38M369.58 1260.21H382.38M399.31 1227.97V1244.94M392.91 1227.97H405.71M392.91 1244.94H405.71M422.64 1214.39V1231.36M416.24 1214.39H429.04M416.24 1231.36H429.04M445.98 1201.23V1218.21M439.58 1201.23H452.38M439.58 1218.21H452.38M492.64 1176.2V1193.17M486.24 1176.2H499.04M486.24 1193.17H499.04M539.3 1151.59V1170.26M532.9 1151.59H545.7M532.9 1170.26H545.7M585.96 1127.4V1146.07M579.56 1127.4H592.36M579.56 1146.07H592.36M632.62 1076.9V1126.13M626.23 1076.9H639.02M626.23 1126.13H639.02M679.29 1041.26V1109.15M672.89 1041.26H685.69M672.89 1109.15H685.69M725.95 1025.98V1089.63M719.55 1025.98H732.35M719.55 1089.63H732.35M772.61 1027.68V1065.87M766.21 1027.68H779.01M766.21 1065.87H779.01M819.28 1020.47V1050.17M812.88 1020.47H825.68M812.88 1050.17H825.68M865.94 1019.62V1037.44M859.54 1019.62H872.34M859.54 1037.44H872.34M912.6 1015.8V1032.77M906.2 1015.8H919M906.2 1032.77H919M959.26 1014.1V1031.07M952.86 1014.1H965.66M952.86 1031.07H965.66M1005.93 1014.1V1031.07M999.53 1014.1H1012.33M999.53 1031.07H1012.33M1052.59 1014.1V1031.07M1046.19 1014.1H1058.99M1046.19 1031.07H1058.99M1099.25 1014.1V1031.07M1092.85 1014.1H1105.65M1092.85 1031.07H1105.65M1145.91 1014.1V1031.07M1139.51 1014.1H1152.31M1139.51 1031.07H1152.31M1192.58 1014.1V1031.07M1186.17 1014.1H1198.98M1186.17 1031.07H1198.98M1239.24 1014.1V1031.07M1232.84 1014.1H1245.64M1232.84 1031.07H1245.64M1285.9 1011.98V1028.95M1279.5 1011.98H1292.3M1279.5 1028.95H1292.3" stroke="#ffc000" stroke-width="2.2" fill="none"/>
<path d="M173.78 1355.69V1381.15M167.38 1355.69H180.18M167.38 1381.15H180.18M181.55 1339.14V1359.51M175.15 1339.14H187.95M175.15 1359.51H187.95M189.33 1326.41V1345.08M182.93 1326.41H195.73M182.93 1345.08H195.73M201 1306.89V1323.86M194.6 1306.89H207.4M194.6 1323.86H207.4M212.66 1295.01V1310.29M206.26 1295.01H219.06M206.26 1310.29H219.06M235.99 1273.79V1287.37M229.59 1273.79H242.39M229.59 1287.37H242.39M259.33 1252.58V1265.31M252.93 1252.58H265.73M252.93 1265.31H265.73M282.66 1234.33V1247.06M276.26 1234.33H289.06M276.26 1247.06H289.06M305.99 1217.78V1230.51M299.59 1217.78H312.39M299.59 1230.51H312.39M329.32 1202.51V1215.24M322.92 1202.51H335.72M322.92 1215.24H335.72M352.65 1189.35V1201.23M346.25 1189.35H359.05M346.25 1201.23H359.05M375.98 1176.62V1188.5M369.58 1176.62H382.38M369.58 1188.5H382.38M399.31 1164.32V1176.2M392.91 1164.32H405.71M392.91 1176.2H405.71M422.64 1151.59V1163.47M416.24 1151.59H429.04M416.24 1163.47H429.04M445.98 1141.83V1153.71M439.58 1141.83H452.38M439.58 1153.71H452.38M492.64 1114.24V1132.91M486.24 1114.24H499.04M486.24 1132.91H499.04M539.3 1095.15V1112.97M532.9 1095.15H545.7M532.9 1112.97H545.7M585.96 1081.99V1093.88M579.56 1081.99H592.36M579.56 1093.88H592.36M632.62 1060.78V1075.21M626.23 1060.78H639.02M626.23 1075.21H639.02M679.29 1028.95V1051.87M672.89 1028.95H685.69M672.89 1051.87H685.69M725.95 1024.71V1033.2M719.55 1024.71H732.35M719.55 1033.2H732.35M772.61 1023.44V1031.92M766.21 1023.44H779.01M766.21 1031.92H779.01M819.28 1024.29V1031.07M812.88 1024.29H825.68M812.88 1031.07H825.68M865.94 1023.86V1030.65M859.54 1023.86H872.34M859.54 1030.65H872.34M912.6 1023.86V1030.65M906.2 1023.86H919M906.2 1030.65H919M959.26 1024.29V1031.07M952.86 1024.29H965.66M952.86 1031.07H965.66M1005.93 1024.29V1031.07M999.53 1024.29H1012.33M999.53 1031.07H1012.33M1052.59 1024.29V1031.07M1046.19 1024.29H1058.99M1046.19 1031.07H1058.99M1099.25 1024.71V1031.5M1092.85 1024.71H1105.65M1092.85 1031.5H1105.65M1145.91 1024.71V1031.5M1139.51 1024.71H1152.31M1139.51 1031.5H1152.31M1192.58 1024.71V1031.5M1186.17 1024.71H1198.98M1186.17 1031.5H1198.98M1239.24 1024.71V1031.5M1232.84 1024.71H1245.64M1232.84 1031.5H1245.64M1285.9 1024.29V1031.07M1279.5 1024.29H1292.3M1279.5 1031.07H1292.3" stroke="#00b0f0" stroke-width="2.2" fill="none"/>
<path d="M173.78 1312.83V1350.17M167.38 1312.83H180.18M167.38 1350.17H180.18M181.55 1292.46V1338.29M175.15 1292.46H187.95M175.15 1338.29H187.95M189.33 1282.7V1324.29M182.93 1282.7H195.73M182.93 1324.29H195.73M201 1267V1306.04M194.6 1267H207.4M194.6 1306.04H207.4M212.66 1255.12V1292.46M206.26 1255.12H219.06M206.26 1292.46H219.06M235.99 1235.18V1267.43M229.59 1235.18H242.39M229.59 1267.43H242.39M259.33 1216.51V1246.21M252.93 1216.51H265.73M252.93 1246.21H265.73M282.66 1201.66V1230.51M276.26 1201.66H289.06M276.26 1230.51H289.06M305.99 1187.65V1213.96M299.59 1187.65H312.39M299.59 1213.96H312.39M329.32 1174.5V1200.81M322.92 1174.5H335.72M322.92 1200.81H335.72M352.65 1162.62V1187.23M346.25 1162.62H359.05M346.25 1187.23H359.05M375.98 1152.01V1174.92M369.58 1152.01H382.38M369.58 1174.92H382.38M399.31 1141.4V1162.62M392.91 1141.4H405.71M392.91 1162.62H405.71M422.64 1131.22V1149.89M416.24 1131.22H429.04M416.24 1149.89H429.04M445.98 1122.73V1140.55M439.58 1122.73H452.38M439.58 1140.55H452.38M492.64 1106.61V1120.18M486.24 1106.61H499.04M486.24 1120.18H499.04M539.3 1087.94V1100.67M532.9 1087.94H545.7M532.9 1100.67H545.7M585.96 1067.99V1080.72M579.56 1067.99H592.36M579.56 1080.72H592.36M632.62 1052.72V1062.9M626.23 1052.72H639.02M626.23 1062.9H639.02M679.29 1038.71V1047.2M672.89 1038.71H685.69M672.89 1047.2H685.69M725.95 1033.2V1039.99M719.55 1033.2H732.35M719.55 1039.99H732.35M772.61 1031.92V1038.71M766.21 1031.92H779.01M766.21 1038.71H779.01M819.28 1031.5V1038.29M812.88 1031.5H825.68M812.88 1038.29H825.68M865.94 1032.35V1039.14M859.54 1032.35H872.34M859.54 1039.14H872.34M912.6 1032.77V1039.56M906.2 1032.77H919M906.2 1039.56H919M959.26 1032.77V1039.56M952.86 1032.77H965.66M952.86 1039.56H965.66M1005.93 1032.77V1039.56M999.53 1032.77H1012.33M999.53 1039.56H1012.33M1052.59 1032.77V1039.56M1046.19 1032.77H1058.99M1046.19 1039.56H1058.99M1099.25 1032.77V1039.56M1092.85 1032.77H1105.65M1092.85 1039.56H1105.65M1145.91 1032.77V1039.56M1139.51 1032.77H1152.31M1139.51 1039.56H1152.31M1192.58 1032.77V1039.56M1186.17 1032.77H1198.98M1186.17 1039.56H1198.98M1239.24 1032.77V1039.56M1232.84 1032.77H1245.64M1232.84 1039.56H1245.64M1285.9 1032.77V1039.56M1279.5 1032.77H1292.3M1279.5 1039.56H1292.3" stroke="#92d050" stroke-width="2.2" fill="none"/>
<path d="M173.78 1419.34V1432.07M167.38 1419.34H180.18M167.38 1432.07H180.18M181.55 1403.64V1421.46M175.15 1403.64H187.95M175.15 1421.46H187.95M189.33 1393.46V1412.13M182.93 1393.46H195.73M182.93 1412.13H195.73M201 1378.6V1398.97M194.6 1378.6H207.4M194.6 1398.97H207.4M212.66 1368V1387.51M206.26 1368H219.06M206.26 1387.51H219.06M235.99 1348.05V1369.27M229.59 1348.05H242.39M229.59 1369.27H242.39M259.33 1330.23V1351.45M252.93 1330.23H265.73M252.93 1351.45H265.73M282.66 1315.38V1333.2M276.26 1315.38H289.06M276.26 1333.2H289.06M305.99 1295.86V1317.08M299.59 1295.86H312.39M299.59 1317.08H312.39M329.32 1281.43V1300.1M322.92 1281.43H335.72M322.92 1300.1H335.72M352.65 1268.28V1286.1M346.25 1268.28H359.05M346.25 1286.1H359.05M375.98 1254.7V1271.67M369.58 1254.7H382.38M369.58 1271.67H382.38M399.31 1240.7V1257.67M392.91 1240.7H405.71M392.91 1257.67H405.71M422.64 1226.27V1243.24M416.24 1226.27H429.04M416.24 1243.24H429.04M445.98 1213.11V1230.09M439.58 1213.11H452.38M439.58 1230.09H452.38M492.64 1188.08V1205.05M486.24 1188.08H499.04M486.24 1205.05H499.04M539.3 1163.04V1181.71M532.9 1163.04H545.7M532.9 1181.71H545.7M585.96 1141.83V1157.95M579.56 1141.83H592.36M579.56 1157.95H592.36M632.62 1098.54V1140.98M626.23 1098.54H639.02M626.23 1140.98H639.02M679.29 1068.42V1114.24M672.89 1068.42H685.69M672.89 1114.24H685.69M725.95 1046.77V1079.02M719.55 1046.77H732.35M719.55 1079.02H732.35M772.61 1042.53V1055.26M766.21 1042.53H779.01M766.21 1055.26H779.01M819.28 1038.71V1043.8M812.88 1038.71H825.68M812.88 1043.8H825.68M865.94 1036.17V1039.56M859.54 1036.17H872.34M859.54 1039.56H872.34M912.6 1035.32V1038.71M906.2 1035.32H919M906.2 1038.71H919M959.26 1035.32V1038.71M952.86 1035.32H965.66M952.86 1038.71H965.66M1005.93 1035.32V1038.71M999.53 1035.32H1012.33M999.53 1038.71H1012.33M1052.59 1035.32V1038.71M1046.19 1035.32H1058.99M1046.19 1038.71H1058.99M1099.25 1035.32V1038.71M1092.85 1035.32H1105.65M1092.85 1038.71H1105.65M1145.91 1035.32V1038.71M1139.51 1035.32H1152.31M1139.51 1038.71H1152.31M1192.58 1035.32V1038.71M1186.17 1035.32H1198.98M1186.17 1038.71H1198.98M1239.24 1035.32V1038.71M1232.84 1035.32H1245.64M1232.84 1038.71H1245.64M1285.9 1035.32V1038.71M1279.5 1035.32H1292.3M1279.5 1038.71H1292.3" stroke="#7f7f7f" stroke-width="2.2" fill="none"/>
<path d="M173.78 1339.14V1351.87M167.38 1339.14H180.18M167.38 1351.87H180.18M181.55 1317.92V1330.65M175.15 1317.92H187.95M175.15 1330.65H187.95M189.33 1302.65V1315.38M182.93 1302.65H195.73M182.93 1315.38H195.73M201 1283.98V1296.71M194.6 1283.98H207.4M194.6 1296.71H207.4M212.66 1269.97V1282.7M206.26 1269.97H219.06M206.26 1282.7H219.06M235.99 1246.21V1258.94M229.59 1246.21H242.39M229.59 1258.94H242.39M259.33 1226.27V1239M252.93 1226.27H265.73M252.93 1239H265.73M282.66 1209.72V1222.45M276.26 1209.72H289.06M276.26 1222.45H289.06M305.99 1194.44V1207.17M299.59 1194.44H312.39M299.59 1207.17H312.39M329.32 1181.29V1194.02M322.92 1181.29H335.72M322.92 1194.02H335.72M352.65 1168.13V1180.86M346.25 1168.13H359.05M346.25 1180.86H359.05M375.98 1156.25V1168.98M369.58 1156.25H382.38M369.58 1168.98H382.38M399.31 1143.95V1156.68M392.91 1143.95H405.71M392.91 1156.68H405.71M422.64 1132.07V1144.8M416.24 1132.07H429.04M416.24 1144.8H429.04M445.98 1123.15V1135.88M439.58 1123.15H452.38M439.58 1135.88H452.38M492.64 1103.64V1116.37M486.24 1103.64H499.04M486.24 1116.37H499.04M539.3 1080.3V1097.27M532.9 1080.3H545.7M532.9 1097.27H545.7M585.96 1052.72V1082.42M579.56 1052.72H592.36M579.56 1082.42H592.36M632.62 1046.35V1059.08M626.23 1046.35H639.02M626.23 1059.08H639.02M679.29 1045.08V1051.87M672.89 1045.08H685.69M672.89 1051.87H685.69M725.95 1045.5V1049.75M719.55 1045.5H732.35M719.55 1049.75H732.35M772.61 1045.5V1049.75M766.21 1045.5H779.01M766.21 1049.75H779.01M819.28 1045.08V1049.32M812.88 1045.08H825.68M812.88 1049.32H825.68M865.94 1045.08V1049.32M859.54 1045.08H872.34M859.54 1049.32H872.34M912.6 1045.93V1050.17M906.2 1045.93H919M906.2 1050.17H919M959.26 1045.08V1049.32M952.86 1045.08H965.66M952.86 1049.32H965.66M1005.93 1045.08V1049.32M999.53 1045.08H1012.33M999.53 1049.32H1012.33M1052.59 1045.08V1049.32M1046.19 1045.08H1058.99M1046.19 1049.32H1058.99M1099.25 1045.08V1049.32M1092.85 1045.08H1105.65M1092.85 1049.32H1105.65M1145.91 1045.08V1049.32M1139.51 1045.08H1152.31M1139.51 1049.32H1152.31M1192.58 1045.08V1049.32M1186.17 1045.08H1198.98M1186.17 1049.32H1198.98M1239.24 1045.5V1049.75M1232.84 1045.5H1245.64M1232.84 1049.75H1245.64M1285.9 1045.5V1049.75M1279.5 1045.5H1292.3M1279.5 1049.75H1292.3" stroke="#ff0000" stroke-width="2.2" fill="none"/>
<path d="M166.5 1460.5C167.71 1455.83 171.27 1439.42 173.78 1432.49C176.29 1425.56 178.96 1423.02 181.55 1418.92C184.15 1414.81 186.09 1412.27 189.33 1407.88C192.57 1403.5 197.11 1397.84 201 1392.61C204.89 1387.37 206.83 1383.13 212.66 1376.48C218.5 1369.83 228.22 1359.86 235.99 1352.72C243.77 1345.58 251.55 1339.78 259.33 1333.62C267.1 1327.47 274.88 1321.67 282.66 1315.8C290.43 1309.93 298.21 1303.92 305.99 1298.4C313.76 1292.89 321.54 1288.01 329.32 1282.7C337.1 1277.4 344.87 1271.74 352.65 1266.58C360.43 1261.42 368.2 1256.75 375.98 1251.73C383.76 1246.71 391.54 1241.26 399.31 1236.45C407.09 1231.64 414.87 1227.33 422.64 1222.87C430.42 1218.42 434.31 1216.08 445.98 1209.72C457.64 1203.35 477.08 1192.82 492.64 1184.68C508.19 1176.55 523.75 1168.91 539.3 1160.92C554.85 1152.93 570.41 1146.63 585.96 1136.73C601.52 1126.83 617.07 1111.77 632.62 1101.51C648.18 1091.26 663.73 1082.49 679.29 1075.21C694.84 1067.92 710.4 1062.55 725.95 1057.81C741.5 1053.07 757.06 1050.52 772.61 1046.77C788.17 1043.03 803.72 1038.36 819.28 1035.32C834.83 1032.28 850.38 1030.37 865.94 1028.53C881.49 1026.69 897.05 1025.28 912.6 1024.29C928.15 1023.3 943.71 1022.87 959.26 1022.59C974.82 1022.31 990.37 1022.59 1005.93 1022.59C1021.48 1022.59 1037.03 1022.59 1052.59 1022.59C1068.14 1022.59 1083.7 1022.59 1099.25 1022.59C1114.8 1022.59 1130.36 1022.59 1145.91 1022.59C1161.47 1022.59 1177.02 1022.59 1192.58 1022.59C1208.13 1022.59 1223.68 1022.94 1239.24 1022.59C1254.79 1022.23 1278.12 1020.82 1285.9 1020.47" stroke="#ffc000" stroke-width="3.8" fill="none" stroke-linecap="round" stroke-linejoin="round"/>
<path d="M166.5 1452.5L174.5 1460.5L166.5 1468.5L158.5 1460.5Z" fill="#ffc000"/><path d="M173.78 1424.49L181.78 1432.49L173.78 1440.49L165.78 1432.49Z" fill="#ffc000"/><path d="M181.55 1410.92L189.55 1418.92L181.55 1426.92L173.55 1418.92Z" fill="#ffc000"/><path d="M189.33 1399.88L197.33 1407.88L189.33 1415.88L181.33 1407.88Z" fill="#ffc000"/><path d="M201 1384.61L209 1392.61L201 1400.61L193 1392.61Z" fill="#ffc000"/><path d="M212.66 1368.48L220.66 1376.48L212.66 1384.48L204.66 1376.48Z" fill="#ffc000"/><path d="M235.99 1344.72L243.99 1352.72L235.99 1360.72L227.99 1352.72Z" fill="#ffc000"/><path d="M259.33 1325.62L267.33 1333.62L259.33 1341.62L251.33 1333.62Z" fill="#ffc000"/><path d="M282.66 1307.8L290.66 1315.8L282.66 1323.8L274.66 1315.8Z" fill="#ffc000"/><path d="M305.99 1290.4L313.99 1298.4L305.99 1306.4L297.99 1298.4Z" fill="#ffc000"/><path d="M329.32 1274.7L337.32 1282.7L329.32 1290.7L321.32 1282.7Z" fill="#ffc000"/><path d="M352.65 1258.58L360.65 1266.58L352.65 1274.58L344.65 1266.58Z" fill="#ffc000"/><path d="M375.98 1243.73L383.98 1251.73L375.98 1259.73L367.98 1251.73Z" fill="#ffc000"/><path d="M399.31 1228.45L407.31 1236.45L399.31 1244.45L391.31 1236.45Z" fill="#ffc000"/><path d="M422.64 1214.87L430.64 1222.87L422.64 1230.87L414.64 1222.87Z" fill="#ffc000"/><path d="M445.98 1201.72L453.98 1209.72L445.98 1217.72L437.98 1209.72Z" fill="#ffc000"/><path d="M492.64 1176.68L500.64 1184.68L492.64 1192.68L484.64 1184.68Z" fill="#ffc000"/><path d="M539.3 1152.92L547.3 1160.92L539.3 1168.92L531.3 1160.92Z" fill="#ffc000"/><path d="M585.96 1128.73L593.96 1136.73L585.96 1144.73L577.96 1136.73Z" fill="#ffc000"/><path d="M632.62 1093.51L640.62 1101.51L632.62 1109.51L624.62 1101.51Z" fill="#ffc000"/><path d="M679.29 1067.21L687.29 1075.21L679.29 1083.21L671.29 1075.21Z" fill="#ffc000"/><path d="M725.95 1049.81L733.95 1057.81L725.95 1065.81L717.95 1057.81Z" fill="#ffc000"/><path d="M772.61 1038.77L780.61 1046.77L772.61 1054.77L764.61 1046.77Z" fill="#ffc000"/><path d="M819.28 1027.32L827.28 1035.32L819.28 1043.32L811.28 1035.32Z" fill="#ffc000"/><path d="M865.94 1020.53L873.94 1028.53L865.94 1036.53L857.94 1028.53Z" fill="#ffc000"/><path d="M912.6 1016.29L920.6 1024.29L912.6 1032.29L904.6 1024.29Z" fill="#ffc000"/><path d="M959.26 1014.59L967.26 1022.59L959.26 1030.59L951.26 1022.59Z" fill="#ffc000"/><path d="M1005.93 1014.59L1013.93 1022.59L1005.93 1030.59L997.93 1022.59Z" fill="#ffc000"/><path d="M1052.59 1014.59L1060.59 1022.59L1052.59 1030.59L1044.59 1022.59Z" fill="#ffc000"/><path d="M1099.25 1014.59L1107.25 1022.59L1099.25 1030.59L1091.25 1022.59Z" fill="#ffc000"/><path d="M1145.91 1014.59L1153.91 1022.59L1145.91 1030.59L1137.91 1022.59Z" fill="#ffc000"/><path d="M1192.58 1014.59L1200.58 1022.59L1192.58 1030.59L1184.58 1022.59Z" fill="#ffc000"/><path d="M1239.24 1014.59L1247.24 1022.59L1239.24 1030.59L1231.24 1022.59Z" fill="#ffc000"/><path d="M1285.9 1012.47L1293.9 1020.47L1285.9 1028.47L1277.9 1020.47Z" fill="#ffc000"/>
<path d="M166.5 1460.5C167.71 1445.15 171.27 1386.95 173.78 1368.42C176.29 1349.89 178.96 1354.77 181.55 1349.32C184.15 1343.88 186.09 1341.4 189.33 1335.75C192.57 1330.09 197.11 1320.89 201 1315.38C204.89 1309.86 206.83 1308.45 212.66 1302.65C218.5 1296.85 228.22 1287.87 235.99 1280.58C243.77 1273.3 251.55 1265.59 259.33 1258.94C267.1 1252.29 274.88 1246.49 282.66 1240.7C290.43 1234.9 298.21 1229.45 305.99 1224.15C313.76 1218.84 321.54 1213.68 329.32 1208.87C337.1 1204.06 344.87 1199.68 352.65 1195.29C360.43 1190.91 368.2 1186.73 375.98 1182.56C383.76 1178.39 391.54 1174.43 399.31 1170.26C407.09 1166.08 414.87 1161.27 422.64 1157.53C430.42 1153.78 434.31 1153.42 445.98 1147.77C457.64 1142.11 477.08 1130.86 492.64 1123.58C508.19 1116.29 523.75 1110 539.3 1104.06C554.85 1098.12 570.41 1093.95 585.96 1087.94C601.52 1081.92 617.07 1075.91 632.62 1067.99C648.18 1060.07 663.73 1046.92 679.29 1040.41C694.84 1033.9 710.4 1031.07 725.95 1028.95C741.5 1026.83 757.06 1027.89 772.61 1027.68C788.17 1027.47 803.72 1027.75 819.28 1027.68C834.83 1027.61 850.38 1027.33 865.94 1027.26C881.49 1027.18 897.05 1027.18 912.6 1027.26C928.15 1027.33 943.71 1027.61 959.26 1027.68C974.82 1027.75 990.37 1027.68 1005.93 1027.68C1021.48 1027.68 1037.03 1027.61 1052.59 1027.68C1068.14 1027.75 1083.7 1028.03 1099.25 1028.1C1114.8 1028.18 1130.36 1028.1 1145.91 1028.1C1161.47 1028.1 1177.02 1028.1 1192.58 1028.1C1208.13 1028.1 1223.68 1028.18 1239.24 1028.1C1254.79 1028.03 1278.12 1027.75 1285.9 1027.68" stroke="#00b0f0" stroke-width="3.8" fill="none" stroke-linecap="round" stroke-linejoin="round"/>
<path d="M166.5 1452.5L175.3 1468.5L157.7 1468.5Z" fill="#00b0f0"/><path d="M173.78 1360.42L182.58 1376.42L164.98 1376.42Z" fill="#00b0f0"/><path d="M181.55 1341.32L190.35 1357.32L172.75 1357.32Z" fill="#00b0f0"/><path d="M189.33 1327.75L198.13 1343.75L180.53 1343.75Z" fill="#00b0f0"/><path d="M201 1307.38L209.8 1323.38L192.2 1323.38Z" fill="#00b0f0"/><path d="M212.66 1294.65L221.46 1310.65L203.86 1310.65Z" fill="#00b0f0"/><path d="M235.99 1272.58L244.79 1288.58L227.19 1288.58Z" fill="#00b0f0"/><path d="M259.33 1250.94L268.13 1266.94L250.53 1266.94Z" fill="#00b0f0"/><path d="M282.66 1232.7L291.46 1248.7L273.86 1248.7Z" fill="#00b0f0"/><path d="M305.99 1216.15L314.79 1232.15L297.19 1232.15Z" fill="#00b0f0"/><path d="M329.32 1200.87L338.12 1216.87L320.52 1216.87Z" fill="#00b0f0"/><path d="M352.65 1187.29L361.45 1203.29L343.85 1203.29Z" fill="#00b0f0"/><path d="M375.98 1174.56L384.78 1190.56L367.18 1190.56Z" fill="#00b0f0"/><path d="M399.31 1162.26L408.11 1178.26L390.51 1178.26Z" fill="#00b0f0"/><path d="M422.64 1149.53L431.44 1165.53L413.84 1165.53Z" fill="#00b0f0"/><path d="M445.98 1139.77L454.78 1155.77L437.18 1155.77Z" fill="#00b0f0"/><path d="M492.64 1115.58L501.44 1131.58L483.84 1131.58Z" fill="#00b0f0"/><path d="M539.3 1096.06L548.1 1112.06L530.5 1112.06Z" fill="#00b0f0"/><path d="M585.96 1079.94L594.76 1095.94L577.16 1095.94Z" fill="#00b0f0"/><path d="M632.62 1059.99L641.42 1075.99L623.83 1075.99Z" fill="#00b0f0"/><path d="M679.29 1032.41L688.09 1048.41L670.49 1048.41Z" fill="#00b0f0"/><path d="M725.95 1020.95L734.75 1036.95L717.15 1036.95Z" fill="#00b0f0"/><path d="M772.61 1019.68L781.41 1035.68L763.81 1035.68Z" fill="#00b0f0"/><path d="M819.28 1019.68L828.08 1035.68L810.48 1035.68Z" fill="#00b0f0"/><path d="M865.94 1019.26L874.74 1035.26L857.14 1035.26Z" fill="#00b0f0"/><path d="M912.6 1019.26L921.4 1035.26L903.8 1035.26Z" fill="#00b0f0"/><path d="M959.26 1019.68L968.06 1035.68L950.46 1035.68Z" fill="#00b0f0"/><path d="M1005.93 1019.68L1014.73 1035.68L997.13 1035.68Z" fill="#00b0f0"/><path d="M1052.59 1019.68L1061.39 1035.68L1043.79 1035.68Z" fill="#00b0f0"/><path d="M1099.25 1020.1L1108.05 1036.1L1090.45 1036.1Z" fill="#00b0f0"/><path d="M1145.91 1020.1L1154.71 1036.1L1137.11 1036.1Z" fill="#00b0f0"/><path d="M1192.58 1020.1L1201.38 1036.1L1183.78 1036.1Z" fill="#00b0f0"/><path d="M1239.24 1020.1L1248.04 1036.1L1230.44 1036.1Z" fill="#00b0f0"/><path d="M1285.9 1019.68L1294.7 1035.68L1277.1 1035.68Z" fill="#00b0f0"/>
<path d="M166.5 1460.5C167.71 1439 171.27 1355.69 173.78 1331.5C176.29 1307.32 178.96 1320.05 181.55 1315.38C184.15 1310.71 186.09 1308.31 189.33 1303.5C192.57 1298.69 197.11 1291.47 201 1286.52C204.89 1281.57 206.83 1279.66 212.66 1273.79C218.5 1267.92 228.22 1258.38 235.99 1251.3C243.77 1244.23 251.55 1237.23 259.33 1231.36C267.1 1225.49 274.88 1221.18 282.66 1216.08C290.43 1210.99 298.21 1205.55 305.99 1200.81C313.76 1196.07 321.54 1191.97 329.32 1187.65C337.1 1183.34 344.87 1178.95 352.65 1174.92C360.43 1170.89 368.2 1167.29 375.98 1163.47C383.76 1159.65 391.54 1155.83 399.31 1152.01C407.09 1148.19 414.87 1143.95 422.64 1140.55C430.42 1137.16 434.31 1136.17 445.98 1131.64C457.64 1127.12 477.08 1119.62 492.64 1113.4C508.19 1107.17 523.75 1100.81 539.3 1094.3C554.85 1087.79 570.41 1080.44 585.96 1074.36C601.52 1068.27 617.07 1063.04 632.62 1057.81C648.18 1052.57 663.73 1046.49 679.29 1042.96C694.84 1039.42 710.4 1037.86 725.95 1036.59C741.5 1035.32 757.06 1035.6 772.61 1035.32C788.17 1035.04 803.72 1034.82 819.28 1034.89C834.83 1034.96 850.38 1035.53 865.94 1035.74C881.49 1035.95 897.05 1036.1 912.6 1036.17C928.15 1036.24 943.71 1036.17 959.26 1036.17C974.82 1036.17 990.37 1036.17 1005.93 1036.17C1021.48 1036.17 1037.03 1036.17 1052.59 1036.17C1068.14 1036.17 1083.7 1036.17 1099.25 1036.17C1114.8 1036.17 1130.36 1036.17 1145.91 1036.17C1161.47 1036.17 1177.02 1036.17 1192.58 1036.17C1208.13 1036.17 1223.68 1036.17 1239.24 1036.17C1254.79 1036.17 1278.12 1036.17 1285.9 1036.17" stroke="#92d050" stroke-width="3.8" fill="none" stroke-linecap="round" stroke-linejoin="round"/>
<circle cx="166.5" cy="1460.5" r="8" fill="#92d050"/><circle cx="173.78" cy="1331.5" r="8" fill="#92d050"/><circle cx="181.55" cy="1315.38" r="8" fill="#92d050"/><circle cx="189.33" cy="1303.5" r="8" fill="#92d050"/><circle cx="201" cy="1286.52" r="8" fill="#92d050"/><circle cx="212.66" cy="1273.79" r="8" fill="#92d050"/><circle cx="235.99" cy="1251.3" r="8" fill="#92d050"/><circle cx="259.33" cy="1231.36" r="8" fill="#92d050"/><circle cx="282.66" cy="1216.08" r="8" fill="#92d050"/><circle cx="305.99" cy="1200.81" r="8" fill="#92d050"/><circle cx="329.32" cy="1187.65" r="8" fill="#92d050"/><circle cx="352.65" cy="1174.92" r="8" fill="#92d050"/><circle cx="375.98" cy="1163.47" r="8" fill="#92d050"/><circle cx="399.31" cy="1152.01" r="8" fill="#92d050"/><circle cx="422.64" cy="1140.55" r="8" fill="#92d050"/><circle cx="445.98" cy="1131.64" r="8" fill="#92d050"/><circle cx="492.64" cy="1113.4" r="8" fill="#92d050"/><circle cx="539.3" cy="1094.3" r="8" fill="#92d050"/><circle cx="585.96" cy="1074.36" r="8" fill="#92d050"/><circle cx="632.62" cy="1057.81" r="8" fill="#92d050"/><circle cx="679.29" cy="1042.96" r="8" fill="#92d050"/><circle cx="725.95" cy="1036.59" r="8" fill="#92d050"/><circle cx="772.61" cy="1035.32" r="8" fill="#92d050"/><circle cx="819.28" cy="1034.89" r="8" fill="#92d050"/><circle cx="865.94" cy="1035.74" r="8" fill="#92d050"/><circle cx="912.6" cy="1036.17" r="8" fill="#92d050"/><circle cx="959.26" cy="1036.17" r="8" fill="#92d050"/><circle cx="1005.93" cy="1036.17" r="8" fill="#92d050"/><circle cx="1052.59" cy="1036.17" r="8" fill="#92d050"/><circle cx="1099.25" cy="1036.17" r="8" fill="#92d050"/><circle cx="1145.91" cy="1036.17" r="8" fill="#92d050"/><circle cx="1192.58" cy="1036.17" r="8" fill="#92d050"/><circle cx="1239.24" cy="1036.17" r="8" fill="#92d050"/><circle cx="1285.9" cy="1036.17" r="8" fill="#92d050"/>
<path d="M166.5 1460.5C167.71 1454.7 171.27 1433.7 173.78 1425.7C176.29 1417.71 178.96 1416.37 181.55 1412.55C184.15 1408.73 186.09 1406.75 189.33 1402.79C192.57 1398.83 197.11 1392.96 201 1388.79C204.89 1384.62 206.83 1382.78 212.66 1377.75C218.5 1372.73 228.22 1364.81 235.99 1358.66C243.77 1352.51 251.55 1346.57 259.33 1340.84C267.1 1335.11 274.88 1330.02 282.66 1324.29C290.43 1318.56 298.21 1312.05 305.99 1306.47C313.76 1300.88 321.54 1295.65 329.32 1290.77C337.1 1285.89 344.87 1281.78 352.65 1277.19C360.43 1272.59 368.2 1267.85 375.98 1263.18C383.76 1258.52 391.54 1253.92 399.31 1249.18C407.09 1244.44 414.87 1239.35 422.64 1234.75C430.42 1230.16 434.31 1227.97 445.98 1221.6C457.64 1215.24 477.08 1204.77 492.64 1196.56C508.19 1188.36 523.75 1180.16 539.3 1172.38C554.85 1164.6 570.41 1158.66 585.96 1149.89C601.52 1141.12 617.07 1129.52 632.62 1119.76C648.18 1110 663.73 1100.81 679.29 1091.33C694.84 1081.85 710.4 1069.97 725.95 1062.9C741.5 1055.83 757.06 1052.5 772.61 1048.9C788.17 1045.29 803.72 1043.1 819.28 1041.26C834.83 1039.42 850.38 1038.57 865.94 1037.86C881.49 1037.16 897.05 1037.16 912.6 1037.02C928.15 1036.87 943.71 1037.02 959.26 1037.02C974.82 1037.02 990.37 1037.02 1005.93 1037.02C1021.48 1037.02 1037.03 1037.02 1052.59 1037.02C1068.14 1037.02 1083.7 1037.02 1099.25 1037.02C1114.8 1037.02 1130.36 1037.02 1145.91 1037.02C1161.47 1037.02 1177.02 1037.02 1192.58 1037.02C1208.13 1037.02 1223.68 1037.02 1239.24 1037.02C1254.79 1037.02 1278.12 1037.02 1285.9 1037.02" stroke="#7f7f7f" stroke-width="3.8" fill="none" stroke-linecap="round" stroke-linejoin="round"/>
<path d="M159.6 1453.6L173.4 1467.4M159.6 1467.4L173.4 1453.6" stroke="#7f7f7f" stroke-width="2.2" fill="none"/><path d="M166.88 1418.8L180.68 1432.6M166.88 1432.6L180.68 1418.8" stroke="#7f7f7f" stroke-width="2.2" fill="none"/><path d="M174.65 1405.65L188.45 1419.45M174.65 1419.45L188.45 1405.65" stroke="#7f7f7f" stroke-width="2.2" fill="none"/><path d="M182.43 1395.89L196.23 1409.69M182.43 1409.69L196.23 1395.89" stroke="#7f7f7f" stroke-width="2.2" fill="none"/><path d="M194.1 1381.89L207.9 1395.69M194.1 1395.69L207.9 1381.89" stroke="#7f7f7f" stroke-width="2.2" fill="none"/><path d="M205.76 1370.85L219.56 1384.65M205.76 1384.65L219.56 1370.85" stroke="#7f7f7f" stroke-width="2.2" fill="none"/><path d="M229.09 1351.76L242.89 1365.56M229.09 1365.56L242.89 1351.76" stroke="#7f7f7f" stroke-width="2.2" fill="none"/><path d="M252.43 1333.94L266.23 1347.74M252.43 1347.74L266.23 1333.94" stroke="#7f7f7f" stroke-width="2.2" fill="none"/><path d="M275.76 1317.39L289.56 1331.19M275.76 1331.19L289.56 1317.39" stroke="#7f7f7f" stroke-width="2.2" fill="none"/><path d="M299.09 1299.57L312.89 1313.37M299.09 1313.37L312.89 1299.57" stroke="#7f7f7f" stroke-width="2.2" fill="none"/><path d="M322.42 1283.87L336.22 1297.67M322.42 1297.67L336.22 1283.87" stroke="#7f7f7f" stroke-width="2.2" fill="none"/><path d="M345.75 1270.29L359.55 1284.09M345.75 1284.09L359.55 1270.29" stroke="#7f7f7f" stroke-width="2.2" fill="none"/><path d="M369.08 1256.28L382.88 1270.09M369.08 1270.09L382.88 1256.28" stroke="#7f7f7f" stroke-width="2.2" fill="none"/><path d="M392.41 1242.28L406.21 1256.08M392.41 1256.08L406.21 1242.28" stroke="#7f7f7f" stroke-width="2.2" fill="none"/><path d="M415.74 1227.85L429.54 1241.65M415.74 1241.65L429.54 1227.85" stroke="#7f7f7f" stroke-width="2.2" fill="none"/><path d="M439.08 1214.7L452.88 1228.5M439.08 1228.5L452.88 1214.7" stroke="#7f7f7f" stroke-width="2.2" fill="none"/><path d="M485.74 1189.66L499.54 1203.46M485.74 1203.46L499.54 1189.66" stroke="#7f7f7f" stroke-width="2.2" fill="none"/><path d="M532.4 1165.48L546.2 1179.28M532.4 1179.28L546.2 1165.48" stroke="#7f7f7f" stroke-width="2.2" fill="none"/><path d="M579.06 1142.99L592.86 1156.79M579.06 1156.79L592.86 1142.99" stroke="#7f7f7f" stroke-width="2.2" fill="none"/><path d="M625.73 1112.86L639.52 1126.66M625.73 1126.66L639.52 1112.86" stroke="#7f7f7f" stroke-width="2.2" fill="none"/><path d="M672.39 1084.43L686.19 1098.23M672.39 1098.23L686.19 1084.43" stroke="#7f7f7f" stroke-width="2.2" fill="none"/><path d="M719.05 1056L732.85 1069.8M719.05 1069.8L732.85 1056" stroke="#7f7f7f" stroke-width="2.2" fill="none"/><path d="M765.71 1042L779.51 1055.8M765.71 1055.8L779.51 1042" stroke="#7f7f7f" stroke-width="2.2" fill="none"/><path d="M812.38 1034.36L826.18 1048.16M812.38 1048.16L826.18 1034.36" stroke="#7f7f7f" stroke-width="2.2" fill="none"/><path d="M859.04 1030.96L872.84 1044.76M859.04 1044.76L872.84 1030.96" stroke="#7f7f7f" stroke-width="2.2" fill="none"/><path d="M905.7 1030.12L919.5 1043.92M905.7 1043.92L919.5 1030.12" stroke="#7f7f7f" stroke-width="2.2" fill="none"/><path d="M952.36 1030.12L966.16 1043.92M952.36 1043.92L966.16 1030.12" stroke="#7f7f7f" stroke-width="2.2" fill="none"/><path d="M999.03 1030.12L1012.83 1043.92M999.03 1043.92L1012.83 1030.12" stroke="#7f7f7f" stroke-width="2.2" fill="none"/><path d="M1045.69 1030.12L1059.49 1043.92M1045.69 1043.92L1059.49 1030.12" stroke="#7f7f7f" stroke-width="2.2" fill="none"/><path d="M1092.35 1030.12L1106.15 1043.92M1092.35 1043.92L1106.15 1030.12" stroke="#7f7f7f" stroke-width="2.2" fill="none"/><path d="M1139.01 1030.12L1152.81 1043.92M1139.01 1043.92L1152.81 1030.12" stroke="#7f7f7f" stroke-width="2.2" fill="none"/><path d="M1185.67 1030.12L1199.48 1043.92M1185.67 1043.92L1199.48 1030.12" stroke="#7f7f7f" stroke-width="2.2" fill="none"/><path d="M1232.34 1030.12L1246.14 1043.92M1232.34 1043.92L1246.14 1030.12" stroke="#7f7f7f" stroke-width="2.2" fill="none"/><path d="M1279 1030.12L1292.8 1043.92M1279 1043.92L1292.8 1030.12" stroke="#7f7f7f" stroke-width="2.2" fill="none"/>
<path d="M166.5 1460.5C167.71 1441.33 171.27 1368.21 173.78 1345.51C176.29 1322.8 178.96 1330.37 181.55 1324.29C184.15 1318.21 186.09 1314.67 189.33 1309.01C192.57 1303.36 197.11 1295.79 201 1290.34C204.89 1284.9 206.83 1282.63 212.66 1276.34C218.5 1270.05 228.22 1259.86 235.99 1252.58C243.77 1245.29 251.55 1238.72 259.33 1232.63C267.1 1226.55 274.88 1221.39 282.66 1216.08C290.43 1210.78 298.21 1205.55 305.99 1200.81C313.76 1196.07 321.54 1192.04 329.32 1187.65C337.1 1183.27 344.87 1178.67 352.65 1174.5C360.43 1170.33 368.2 1166.65 375.98 1162.62C383.76 1158.59 391.54 1154.34 399.31 1150.31C407.09 1146.28 414.87 1141.9 422.64 1138.43C430.42 1134.97 434.31 1134.26 445.98 1129.52C457.64 1124.78 477.08 1116.79 492.64 1110C508.19 1103.21 523.75 1095.86 539.3 1088.78C554.85 1081.71 570.41 1073.58 585.96 1067.57C601.52 1061.56 617.07 1055.9 632.62 1052.72C648.18 1049.53 663.73 1049.32 679.29 1048.47C694.84 1047.62 710.4 1047.77 725.95 1047.62C741.5 1047.48 757.06 1047.69 772.61 1047.62C788.17 1047.55 803.72 1047.27 819.28 1047.2C834.83 1047.13 850.38 1047.06 865.94 1047.2C881.49 1047.34 897.05 1048.05 912.6 1048.05C928.15 1048.05 943.71 1047.34 959.26 1047.2C974.82 1047.06 990.37 1047.2 1005.93 1047.2C1021.48 1047.2 1037.03 1047.2 1052.59 1047.2C1068.14 1047.2 1083.7 1047.2 1099.25 1047.2C1114.8 1047.2 1130.36 1047.2 1145.91 1047.2C1161.47 1047.2 1177.02 1047.13 1192.58 1047.2C1208.13 1047.27 1223.68 1047.55 1239.24 1047.62C1254.79 1047.69 1278.12 1047.62 1285.9 1047.62" stroke="#ff0000" stroke-width="3.8" fill="none" stroke-linecap="round" stroke-linejoin="round"/>
<rect x="158.5" y="1452.5" width="16" height="16" fill="#ff0000"/><rect x="165.78" y="1337.51" width="16" height="16" fill="#ff0000"/><rect x="173.55" y="1316.29" width="16" height="16" fill="#ff0000"/><rect x="181.33" y="1301.01" width="16" height="16" fill="#ff0000"/><rect x="193" y="1282.34" width="16" height="16" fill="#ff0000"/><rect x="204.66" y="1268.34" width="16" height="16" fill="#ff0000"/><rect x="227.99" y="1244.58" width="16" height="16" fill="#ff0000"/><rect x="251.33" y="1224.63" width="16" height="16" fill="#ff0000"/><rect x="274.66" y="1208.08" width="16" height="16" fill="#ff0000"/><rect x="297.99" y="1192.81" width="16" height="16" fill="#ff0000"/><rect x="321.32" y="1179.65" width="16" height="16" fill="#ff0000"/><rect x="344.65" y="1166.5" width="16" height="16" fill="#ff0000"/><rect x="367.98" y="1154.62" width="16" height="16" fill="#ff0000"/><rect x="391.31" y="1142.31" width="16" height="16" fill="#ff0000"/><rect x="414.64" y="1130.43" width="16" height="16" fill="#ff0000"/><rect x="437.98" y="1121.52" width="16" height="16" fill="#ff0000"/><rect x="484.64" y="1102" width="16" height="16" fill="#ff0000"/><rect x="531.3" y="1080.78" width="16" height="16" fill="#ff0000"/><rect x="577.96" y="1059.57" width="16" height="16" fill="#ff0000"/><rect x="624.62" y="1044.72" width="16" height="16" fill="#ff0000"/><rect x="671.29" y="1040.47" width="16" height="16" fill="#ff0000"/><rect x="717.95" y="1039.62" width="16" height="16" fill="#ff0000"/><rect x="764.61" y="1039.62" width="16" height="16" fill="#ff0000"/><rect x="811.28" y="1039.2" width="16" height="16" fill="#ff0000"/><rect x="857.94" y="1039.2" width="16" height="16" fill="#ff0000"/><rect x="904.6" y="1040.05" width="16" height="16" fill="#ff0000"/><rect x="951.26" y="1039.2" width="16" height="16" fill="#ff0000"/><rect x="997.93" y="1039.2" width="16" height="16" fill="#ff0000"/><rect x="1044.59" y="1039.2" width="16" height="16" fill="#ff0000"/><rect x="1091.25" y="1039.2" width="16" height="16" fill="#ff0000"/><rect x="1137.91" y="1039.2" width="16" height="16" fill="#ff0000"/><rect x="1184.58" y="1039.2" width="16" height="16" fill="#ff0000"/><rect x="1231.24" y="1039.62" width="16" height="16" fill="#ff0000"/><rect x="1277.9" y="1039.62" width="16" height="16" fill="#ff0000"/>
<path d="M180 1588.3H235.6" stroke="#ffc000" stroke-width="4" stroke-linecap="round"/>
<path d="M207.5 1580.3L215.5 1588.3L207.5 1596.3L199.5 1588.3Z" fill="#ffc000"/>
<text x="242" y="1596.4" font-family='"Liberation Sans", sans-serif' font-size="23.6" fill="#595959" text-anchor="start" textLength="391" lengthAdjust="spacingAndGlyphs">Lactochem<tspan font-size="12.5" dy="-6.8">®</tspan><tspan dy="6.8"> Fine Powder_MEAN±SD</tspan></text>
<path d="M747 1588.3H802.6" stroke="#00b0f0" stroke-width="4" stroke-linecap="round"/>
<path d="M774.5 1580.3L783.3 1596.3L765.7 1596.3Z" fill="#00b0f0"/>
<text x="809" y="1596.4" font-family='"Liberation Sans", sans-serif' font-size="23.6" fill="#595959" text-anchor="start" textLength="340" lengthAdjust="spacingAndGlyphs">Lactochem<tspan font-size="12.5" dy="-6.8">®</tspan><tspan dy="6.8"> Crystals_MEAN±SD</tspan></text>
<path d="M180 1635.9H235.6" stroke="#92d050" stroke-width="4" stroke-linecap="round"/>
<circle cx="207.5" cy="1635.9" r="8" fill="#92d050"/>
<text x="242" y="1644" font-family='"Liberation Sans", sans-serif' font-size="23.6" fill="#595959" text-anchor="start" textLength="297" lengthAdjust="spacingAndGlyphs">SuperTab<tspan font-size="12.5" dy="-6.8">®</tspan><tspan dy="6.8"> 11SD_MEAN±SD</tspan></text>
<path d="M747 1635.9H802.6" stroke="#7f7f7f" stroke-width="4" stroke-linecap="round"/>
<path d="M767.6 1629L781.4 1642.8M767.6 1642.8L781.4 1629" stroke="#7f7f7f" stroke-width="2.2" fill="none"/>
<text x="809" y="1644" font-family='"Liberation Sans", sans-serif' font-size="23.6" fill="#595959" text-anchor="start" textLength="268" lengthAdjust="spacingAndGlyphs">FlowLac<tspan font-size="12.5" dy="-6.8">®</tspan><tspan dy="6.8"> 100_MEAN±SD</tspan></text>
<path d="M180 1683.8H235.6" stroke="#ff0000" stroke-width="4" stroke-linecap="round"/>
<rect x="199.5" y="1675.8" width="16" height="16" fill="#ff0000"/>
<text x="242" y="1691.9" font-family='"Liberation Sans", sans-serif' font-size="23.6" fill="#595959" text-anchor="start" textLength="282" lengthAdjust="spacingAndGlyphs">Tablettose<tspan font-size="12.5" dy="-6.8">®</tspan><tspan dy="6.8"> 70_MEAN±SD</tspan></text>
<text x="683" y="878.6" font-family='"Liberation Serif", serif' font-size="29.5" fill="#000" text-anchor="middle">(<tspan font-weight="bold">a</tspan>)</text>
<text x="683.5" y="1757.6" font-family='"Liberation Serif", serif' font-size="29.5" fill="#000" text-anchor="middle">(<tspan font-weight="bold">b</tspan>)</text>
</svg>
</body>
</html>
